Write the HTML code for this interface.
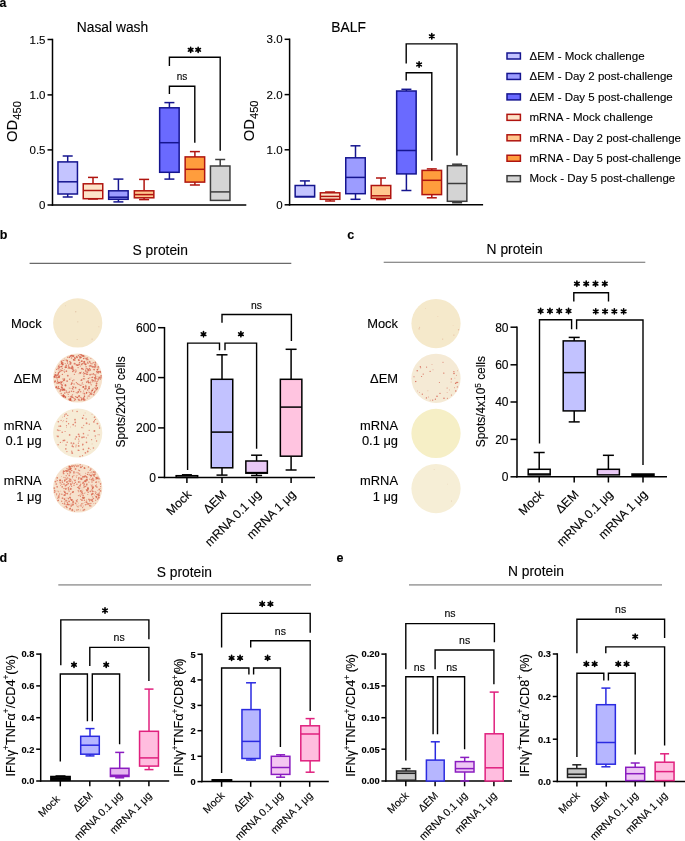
<!DOCTYPE html>
<html><head><meta charset="utf-8"><style>html,body{margin:0;padding:0;background:#fff;width:685px;height:841px;overflow:hidden}svg{display:block;will-change:transform}text{stroke:#000;stroke-width:0.12px}</style></head>
<body><svg width="685" height="841" viewBox="0 0 685 841" font-family='"Liberation Sans", sans-serif'><rect width="685" height="841" fill="#fff"/><defs><filter id="bl" x="-10%" y="-10%" width="120%" height="120%"><feGaussianBlur stdDeviation="0.4"/></filter></defs><text x="-0.60" y="7.00" font-size="12.3" text-anchor="start" font-weight="bold" fill="#000">a</text><text x="-0.30" y="238.70" font-size="12.5" text-anchor="start" font-weight="bold" fill="#000">b</text><text x="347.30" y="238.70" font-size="12.5" text-anchor="start" font-weight="bold" fill="#000">c</text><text x="-0.60" y="562.00" font-size="12.5" text-anchor="start" font-weight="bold" fill="#000">d</text><text x="336.50" y="562.00" font-size="12.5" text-anchor="start" font-weight="bold" fill="#000">e</text><text x="112.50" y="31.50" font-size="13.8" text-anchor="middle" font-weight="normal" fill="#000">Nasal wash</text><text x="348.60" y="31.60" font-size="13.8" text-anchor="middle" font-weight="normal" fill="#000">BALF</text><line x1="52.50" y1="38.75" x2="52.50" y2="205.75" stroke="#000" stroke-width="1.5" stroke-linecap="butt"/><line x1="47.50" y1="39.50" x2="52.50" y2="39.50" stroke="#000" stroke-width="1.5" stroke-linecap="butt"/><text x="45.50" y="43.50" font-size="11.5" text-anchor="end" font-weight="normal" fill="#000">1.5</text><line x1="47.50" y1="94.90" x2="52.50" y2="94.90" stroke="#000" stroke-width="1.5" stroke-linecap="butt"/><text x="45.50" y="98.90" font-size="11.5" text-anchor="end" font-weight="normal" fill="#000">1.0</text><line x1="47.50" y1="149.90" x2="52.50" y2="149.90" stroke="#000" stroke-width="1.5" stroke-linecap="butt"/><text x="45.50" y="153.90" font-size="11.5" text-anchor="end" font-weight="normal" fill="#000">0.5</text><line x1="47.50" y1="205.00" x2="52.50" y2="205.00" stroke="#000" stroke-width="1.5" stroke-linecap="butt"/><text x="45.50" y="209.00" font-size="11.5" text-anchor="end" font-weight="normal" fill="#000">0</text><line x1="51.75" y1="205.00" x2="246.30" y2="205.00" stroke="#000" stroke-width="1.5" stroke-linecap="butt"/><line x1="289.60" y1="38.55" x2="289.60" y2="205.55" stroke="#000" stroke-width="1.5" stroke-linecap="butt"/><line x1="284.60" y1="39.30" x2="289.60" y2="39.30" stroke="#000" stroke-width="1.5" stroke-linecap="butt"/><text x="282.60" y="43.30" font-size="11.5" text-anchor="end" font-weight="normal" fill="#000">3.0</text><line x1="284.60" y1="94.60" x2="289.60" y2="94.60" stroke="#000" stroke-width="1.5" stroke-linecap="butt"/><text x="282.60" y="98.60" font-size="11.5" text-anchor="end" font-weight="normal" fill="#000">2.0</text><line x1="284.60" y1="149.80" x2="289.60" y2="149.80" stroke="#000" stroke-width="1.5" stroke-linecap="butt"/><text x="282.60" y="153.80" font-size="11.5" text-anchor="end" font-weight="normal" fill="#000">1.0</text><line x1="284.60" y1="204.80" x2="289.60" y2="204.80" stroke="#000" stroke-width="1.5" stroke-linecap="butt"/><text x="282.60" y="208.80" font-size="11.5" text-anchor="end" font-weight="normal" fill="#000">0</text><line x1="288.85" y1="204.80" x2="483.10" y2="204.80" stroke="#000" stroke-width="1.5" stroke-linecap="butt"/><text transform="translate(17.3 141.9) rotate(-90)" font-size="14.8">OD<tspan font-size="11.2" dy="3.4">450</tspan></text><text transform="translate(254.1 141.3) rotate(-90)" font-size="14.8">OD<tspan font-size="11.2" dy="3.4">450</tspan></text><line x1="67.70" y1="156.00" x2="67.70" y2="161.90" stroke="#15158f" stroke-width="1.5" stroke-linecap="butt"/><line x1="62.70" y1="156.00" x2="72.70" y2="156.00" stroke="#15158f" stroke-width="1.5" stroke-linecap="butt"/><line x1="67.70" y1="194.00" x2="67.70" y2="197.00" stroke="#15158f" stroke-width="1.5" stroke-linecap="butt"/><line x1="62.70" y1="197.00" x2="72.70" y2="197.00" stroke="#15158f" stroke-width="1.5" stroke-linecap="butt"/><rect x="57.95" y="161.90" width="19.50" height="32.10" fill="#c4c4ff" stroke="#15158f" stroke-width="1.5"/><line x1="57.95" y1="181.80" x2="77.45" y2="181.80" stroke="#15158f" stroke-width="1.5" stroke-linecap="butt"/><line x1="93.00" y1="177.40" x2="93.00" y2="183.80" stroke="#b0140f" stroke-width="1.5" stroke-linecap="butt"/><line x1="88.00" y1="177.40" x2="98.00" y2="177.40" stroke="#b0140f" stroke-width="1.5" stroke-linecap="butt"/><line x1="93.00" y1="198.70" x2="93.00" y2="199.00" stroke="#b0140f" stroke-width="1.5" stroke-linecap="butt"/><line x1="88.00" y1="199.00" x2="98.00" y2="199.00" stroke="#b0140f" stroke-width="1.5" stroke-linecap="butt"/><rect x="83.25" y="183.80" width="19.50" height="14.90" fill="#fde3c8" stroke="#b0140f" stroke-width="1.5"/><line x1="83.25" y1="190.50" x2="102.75" y2="190.50" stroke="#b0140f" stroke-width="1.5" stroke-linecap="butt"/><line x1="118.40" y1="179.10" x2="118.40" y2="190.80" stroke="#15158f" stroke-width="1.5" stroke-linecap="butt"/><line x1="113.40" y1="179.10" x2="123.40" y2="179.10" stroke="#15158f" stroke-width="1.5" stroke-linecap="butt"/><line x1="118.40" y1="199.30" x2="118.40" y2="201.90" stroke="#15158f" stroke-width="1.5" stroke-linecap="butt"/><line x1="113.40" y1="201.90" x2="123.40" y2="201.90" stroke="#15158f" stroke-width="1.5" stroke-linecap="butt"/><rect x="108.65" y="190.80" width="19.50" height="8.50" fill="#9c9cff" stroke="#15158f" stroke-width="1.5"/><line x1="108.65" y1="197.20" x2="128.15" y2="197.20" stroke="#15158f" stroke-width="1.5" stroke-linecap="butt"/><line x1="144.10" y1="179.40" x2="144.10" y2="190.80" stroke="#b0140f" stroke-width="1.5" stroke-linecap="butt"/><line x1="139.10" y1="179.40" x2="149.10" y2="179.40" stroke="#b0140f" stroke-width="1.5" stroke-linecap="butt"/><line x1="144.10" y1="197.80" x2="144.10" y2="199.60" stroke="#b0140f" stroke-width="1.5" stroke-linecap="butt"/><line x1="139.10" y1="199.60" x2="149.10" y2="199.60" stroke="#b0140f" stroke-width="1.5" stroke-linecap="butt"/><rect x="134.35" y="190.80" width="19.50" height="7.00" fill="#ffc78e" stroke="#b0140f" stroke-width="1.5"/><line x1="134.35" y1="194.60" x2="153.85" y2="194.60" stroke="#b0140f" stroke-width="1.5" stroke-linecap="butt"/><line x1="169.40" y1="102.60" x2="169.40" y2="107.80" stroke="#15158f" stroke-width="1.5" stroke-linecap="butt"/><line x1="164.40" y1="102.60" x2="174.40" y2="102.60" stroke="#15158f" stroke-width="1.5" stroke-linecap="butt"/><line x1="169.40" y1="172.30" x2="169.40" y2="179.10" stroke="#15158f" stroke-width="1.5" stroke-linecap="butt"/><line x1="164.40" y1="179.10" x2="174.40" y2="179.10" stroke="#15158f" stroke-width="1.5" stroke-linecap="butt"/><rect x="159.65" y="107.80" width="19.50" height="64.50" fill="#6a6aff" stroke="#15158f" stroke-width="1.5"/><line x1="159.65" y1="142.70" x2="179.15" y2="142.70" stroke="#15158f" stroke-width="1.5" stroke-linecap="butt"/><line x1="194.90" y1="151.60" x2="194.90" y2="156.90" stroke="#b0140f" stroke-width="1.5" stroke-linecap="butt"/><line x1="189.90" y1="151.60" x2="199.90" y2="151.60" stroke="#b0140f" stroke-width="1.5" stroke-linecap="butt"/><line x1="194.90" y1="182.10" x2="194.90" y2="185.00" stroke="#b0140f" stroke-width="1.5" stroke-linecap="butt"/><line x1="189.90" y1="185.00" x2="199.90" y2="185.00" stroke="#b0140f" stroke-width="1.5" stroke-linecap="butt"/><rect x="185.15" y="156.90" width="19.50" height="25.20" fill="#ff9d3d" stroke="#b0140f" stroke-width="1.5"/><line x1="185.15" y1="169.30" x2="204.65" y2="169.30" stroke="#b0140f" stroke-width="1.5" stroke-linecap="butt"/><line x1="220.20" y1="159.50" x2="220.20" y2="166.00" stroke="#3c3c3c" stroke-width="1.5" stroke-linecap="butt"/><line x1="215.20" y1="159.50" x2="225.20" y2="159.50" stroke="#3c3c3c" stroke-width="1.5" stroke-linecap="butt"/><rect x="210.45" y="166.00" width="19.50" height="34.40" fill="#d4d4d4" stroke="#3c3c3c" stroke-width="1.5"/><line x1="210.45" y1="191.90" x2="229.95" y2="191.90" stroke="#3c3c3c" stroke-width="1.5" stroke-linecap="butt"/><polyline points="169.40,94.00 169.40,86.20 194.80,86.20 194.80,142.70" fill="none" stroke="#000" stroke-width="1.4" stroke-linejoin="miter"/><polyline points="169.40,66.00 169.40,57.30 220.20,57.30 220.20,150.70" fill="none" stroke="#000" stroke-width="1.4" stroke-linejoin="miter"/><text x="182.00" y="80.00" font-size="10" text-anchor="middle" font-weight="normal" fill="#000">ns</text><path d="M190.65 47.20L190.65 52.50M188.36 48.52L192.94 51.18M192.94 48.52L188.36 51.18" stroke="#000" stroke-width="1.6" fill="none" stroke-linecap="round"/><path d="M198.15 47.20L198.15 52.50M195.86 48.52L200.44 51.18M200.44 48.52L195.86 51.18" stroke="#000" stroke-width="1.6" fill="none" stroke-linecap="round"/><line x1="304.90" y1="180.90" x2="304.90" y2="185.50" stroke="#15158f" stroke-width="1.5" stroke-linecap="butt"/><line x1="299.90" y1="180.90" x2="309.90" y2="180.90" stroke="#15158f" stroke-width="1.5" stroke-linecap="butt"/><rect x="295.15" y="185.50" width="19.50" height="11.40" fill="#c4c4ff" stroke="#15158f" stroke-width="1.5"/><line x1="295.15" y1="196.50" x2="314.65" y2="196.50" stroke="#15158f" stroke-width="1.5" stroke-linecap="butt"/><line x1="330.10" y1="192.00" x2="330.10" y2="192.80" stroke="#b0140f" stroke-width="1.5" stroke-linecap="butt"/><line x1="325.10" y1="192.00" x2="335.10" y2="192.00" stroke="#b0140f" stroke-width="1.5" stroke-linecap="butt"/><line x1="330.10" y1="199.30" x2="330.10" y2="201.00" stroke="#b0140f" stroke-width="1.5" stroke-linecap="butt"/><line x1="325.10" y1="201.00" x2="335.10" y2="201.00" stroke="#b0140f" stroke-width="1.5" stroke-linecap="butt"/><rect x="320.35" y="192.80" width="19.50" height="6.50" fill="#fde3c8" stroke="#b0140f" stroke-width="1.5"/><line x1="320.35" y1="196.40" x2="339.85" y2="196.40" stroke="#b0140f" stroke-width="1.5" stroke-linecap="butt"/><line x1="355.50" y1="145.80" x2="355.50" y2="157.80" stroke="#15158f" stroke-width="1.5" stroke-linecap="butt"/><line x1="350.50" y1="145.80" x2="360.50" y2="145.80" stroke="#15158f" stroke-width="1.5" stroke-linecap="butt"/><line x1="355.50" y1="193.70" x2="355.50" y2="199.30" stroke="#15158f" stroke-width="1.5" stroke-linecap="butt"/><line x1="350.50" y1="199.30" x2="360.50" y2="199.30" stroke="#15158f" stroke-width="1.5" stroke-linecap="butt"/><rect x="345.75" y="157.80" width="19.50" height="35.90" fill="#9c9cff" stroke="#15158f" stroke-width="1.5"/><line x1="345.75" y1="177.40" x2="365.25" y2="177.40" stroke="#15158f" stroke-width="1.5" stroke-linecap="butt"/><line x1="381.00" y1="178.00" x2="381.00" y2="185.50" stroke="#b0140f" stroke-width="1.5" stroke-linecap="butt"/><line x1="376.00" y1="178.00" x2="386.00" y2="178.00" stroke="#b0140f" stroke-width="1.5" stroke-linecap="butt"/><line x1="381.00" y1="198.40" x2="381.00" y2="199.60" stroke="#b0140f" stroke-width="1.5" stroke-linecap="butt"/><line x1="376.00" y1="199.60" x2="386.00" y2="199.60" stroke="#b0140f" stroke-width="1.5" stroke-linecap="butt"/><rect x="371.25" y="185.50" width="19.50" height="12.90" fill="#ffc78e" stroke="#b0140f" stroke-width="1.5"/><line x1="371.25" y1="195.80" x2="390.75" y2="195.80" stroke="#b0140f" stroke-width="1.5" stroke-linecap="butt"/><line x1="406.40" y1="89.30" x2="406.40" y2="91.00" stroke="#15158f" stroke-width="1.5" stroke-linecap="butt"/><line x1="401.40" y1="89.30" x2="411.40" y2="89.30" stroke="#15158f" stroke-width="1.5" stroke-linecap="butt"/><line x1="406.40" y1="173.90" x2="406.40" y2="190.50" stroke="#15158f" stroke-width="1.5" stroke-linecap="butt"/><line x1="401.40" y1="190.50" x2="411.40" y2="190.50" stroke="#15158f" stroke-width="1.5" stroke-linecap="butt"/><rect x="396.65" y="91.00" width="19.50" height="82.90" fill="#6a6aff" stroke="#15158f" stroke-width="1.5"/><line x1="396.65" y1="150.50" x2="416.15" y2="150.50" stroke="#15158f" stroke-width="1.5" stroke-linecap="butt"/><line x1="431.80" y1="168.90" x2="431.80" y2="170.40" stroke="#b0140f" stroke-width="1.5" stroke-linecap="butt"/><line x1="426.80" y1="168.90" x2="436.80" y2="168.90" stroke="#b0140f" stroke-width="1.5" stroke-linecap="butt"/><line x1="431.80" y1="194.60" x2="431.80" y2="197.80" stroke="#b0140f" stroke-width="1.5" stroke-linecap="butt"/><line x1="426.80" y1="197.80" x2="436.80" y2="197.80" stroke="#b0140f" stroke-width="1.5" stroke-linecap="butt"/><rect x="422.05" y="170.40" width="19.50" height="24.20" fill="#ff9d3d" stroke="#b0140f" stroke-width="1.5"/><line x1="422.05" y1="180.30" x2="441.55" y2="180.30" stroke="#b0140f" stroke-width="1.5" stroke-linecap="butt"/><line x1="457.10" y1="164.20" x2="457.10" y2="165.70" stroke="#3c3c3c" stroke-width="1.5" stroke-linecap="butt"/><line x1="452.10" y1="164.20" x2="462.10" y2="164.20" stroke="#3c3c3c" stroke-width="1.5" stroke-linecap="butt"/><line x1="457.10" y1="201.30" x2="457.10" y2="202.70" stroke="#3c3c3c" stroke-width="1.5" stroke-linecap="butt"/><line x1="452.10" y1="202.70" x2="462.10" y2="202.70" stroke="#3c3c3c" stroke-width="1.5" stroke-linecap="butt"/><rect x="447.35" y="165.70" width="19.50" height="35.60" fill="#d4d4d4" stroke="#3c3c3c" stroke-width="1.5"/><line x1="447.35" y1="183.50" x2="466.85" y2="183.50" stroke="#3c3c3c" stroke-width="1.5" stroke-linecap="butt"/><polyline points="406.20,80.50 406.20,72.80 431.80,72.80 431.80,160.70" fill="none" stroke="#000" stroke-width="1.4" stroke-linejoin="miter"/><polyline points="406.20,63.60 406.20,43.90 457.00,43.90 457.00,155.50" fill="none" stroke="#000" stroke-width="1.4" stroke-linejoin="miter"/><path d="M419.10 61.85L419.10 67.15M416.81 63.17L421.39 65.83M421.39 63.17L416.81 65.83" stroke="#000" stroke-width="1.6" fill="none" stroke-linecap="round"/><path d="M431.80 33.65L431.80 38.95M429.51 34.97L434.09 37.62M434.09 34.97L429.51 37.62" stroke="#000" stroke-width="1.6" fill="none" stroke-linecap="round"/><rect x="507" y="53.00" width="13.4" height="6" fill="#c4c4ff" stroke="#15158f" stroke-width="1.5"/><text x="529.50" y="59.70" font-size="11.5" text-anchor="start" font-weight="normal" fill="#000">ΔEM - Mock challenge</text><rect x="507" y="73.45" width="13.4" height="6" fill="#9c9cff" stroke="#15158f" stroke-width="1.5"/><text x="529.50" y="80.15" font-size="11.5" text-anchor="start" font-weight="normal" fill="#000">ΔEM - Day 2 post-challenge</text><rect x="507" y="93.90" width="13.4" height="6" fill="#6a6aff" stroke="#15158f" stroke-width="1.5"/><text x="529.50" y="100.60" font-size="11.5" text-anchor="start" font-weight="normal" fill="#000">ΔEM - Day 5 post-challenge</text><rect x="507" y="114.35" width="13.4" height="6" fill="#fde3c8" stroke="#b0140f" stroke-width="1.5"/><text x="529.50" y="121.05" font-size="11.5" text-anchor="start" font-weight="normal" fill="#000">mRNA - Mock challenge</text><rect x="507" y="134.80" width="13.4" height="6" fill="#ffc78e" stroke="#b0140f" stroke-width="1.5"/><text x="529.50" y="141.50" font-size="11.5" text-anchor="start" font-weight="normal" fill="#000">mRNA - Day 2 post-challenge</text><rect x="507" y="155.25" width="13.4" height="6" fill="#ff9d3d" stroke="#b0140f" stroke-width="1.5"/><text x="529.50" y="161.95" font-size="11.5" text-anchor="start" font-weight="normal" fill="#000">mRNA - Day 5 post-challenge</text><rect x="507" y="175.70" width="13.4" height="6" fill="#d4d4d4" stroke="#3c3c3c" stroke-width="1.5"/><text x="529.50" y="182.40" font-size="11.5" text-anchor="start" font-weight="normal" fill="#000">Mock - Day 5 post-challenge</text><line x1="29.60" y1="263.40" x2="291.30" y2="263.40" stroke="#6a6a6a" stroke-width="1.1" stroke-linecap="butt"/><text x="160.20" y="255.10" font-size="13.8" text-anchor="middle" font-weight="normal" fill="#000">S protein</text><circle cx="77.7" cy="322.9" r="24.6" fill="#f5e8cb" filter="url(#bl)"/><g filter="url(#bl)"><circle cx="92.1" cy="339.1" r="0.71" fill="#d0a080" fill-opacity="0.45"/><circle cx="77.2" cy="339.5" r="0.58" fill="#d0a080" fill-opacity="0.45"/><circle cx="65.5" cy="305.8" r="0.44" fill="#d0a080" fill-opacity="0.45"/><circle cx="98.9" cy="326.7" r="0.57" fill="#d0a080" fill-opacity="0.45"/><circle cx="77.8" cy="321.8" r="0.58" fill="#d0a080" fill-opacity="0.45"/><circle cx="75.7" cy="311.8" r="0.78" fill="#d0a080" fill-opacity="0.45"/></g><circle cx="77.7" cy="378" r="24.6" fill="#f6e2cc" filter="url(#bl)"/><g filter="url(#bl)"><circle cx="100.0" cy="371.7" r="0.43" fill="#d04c36" fill-opacity="0.66"/><circle cx="96.8" cy="389.3" r="0.80" fill="#d04c36" fill-opacity="0.66"/><circle cx="70.1" cy="364.3" r="0.73" fill="#d04c36" fill-opacity="0.66"/><circle cx="62.4" cy="365.9" r="0.49" fill="#d04c36" fill-opacity="0.66"/><circle cx="62.3" cy="385.2" r="0.80" fill="#d04c36" fill-opacity="0.66"/><circle cx="100.9" cy="377.2" r="0.70" fill="#d04c36" fill-opacity="0.66"/><circle cx="63.7" cy="383.1" r="0.42" fill="#d04c36" fill-opacity="0.66"/><circle cx="95.5" cy="381.1" r="0.58" fill="#d04c36" fill-opacity="0.66"/><circle cx="61.2" cy="393.5" r="0.69" fill="#d04c36" fill-opacity="0.66"/><circle cx="64.5" cy="372.7" r="0.41" fill="#d04c36" fill-opacity="0.66"/><circle cx="72.3" cy="388.5" r="0.68" fill="#d04c36" fill-opacity="0.66"/><circle cx="98.3" cy="377.8" r="0.50" fill="#d04c36" fill-opacity="0.66"/><circle cx="94.8" cy="364.5" r="0.80" fill="#d04c36" fill-opacity="0.66"/><circle cx="95.6" cy="366.1" r="0.83" fill="#d04c36" fill-opacity="0.66"/><circle cx="63.5" cy="396.6" r="0.93" fill="#d04c36" fill-opacity="0.66"/><circle cx="89.0" cy="396.1" r="0.79" fill="#d04c36" fill-opacity="0.66"/><circle cx="59.3" cy="382.5" r="0.67" fill="#d04c36" fill-opacity="0.66"/><circle cx="94.2" cy="369.6" r="0.86" fill="#d04c36" fill-opacity="0.66"/><circle cx="64.0" cy="396.0" r="0.89" fill="#d04c36" fill-opacity="0.66"/><circle cx="58.9" cy="382.7" r="0.91" fill="#d04c36" fill-opacity="0.66"/><circle cx="74.7" cy="359.9" r="0.52" fill="#d04c36" fill-opacity="0.66"/><circle cx="68.3" cy="396.6" r="0.49" fill="#d04c36" fill-opacity="0.66"/><circle cx="90.2" cy="369.9" r="0.90" fill="#d04c36" fill-opacity="0.66"/><circle cx="69.2" cy="399.6" r="0.79" fill="#d04c36" fill-opacity="0.66"/><circle cx="59.0" cy="377.5" r="0.76" fill="#d04c36" fill-opacity="0.66"/><circle cx="64.3" cy="369.8" r="0.51" fill="#d04c36" fill-opacity="0.66"/><circle cx="54.7" cy="376.3" r="0.74" fill="#d04c36" fill-opacity="0.66"/><circle cx="97.3" cy="388.1" r="0.80" fill="#d04c36" fill-opacity="0.66"/><circle cx="88.8" cy="370.7" r="0.81" fill="#d04c36" fill-opacity="0.66"/><circle cx="96.7" cy="385.3" r="0.55" fill="#d04c36" fill-opacity="0.66"/><circle cx="81.0" cy="400.3" r="0.46" fill="#d04c36" fill-opacity="0.66"/><circle cx="55.6" cy="374.9" r="0.53" fill="#d04c36" fill-opacity="0.66"/><circle cx="83.3" cy="399.9" r="0.63" fill="#d04c36" fill-opacity="0.66"/><circle cx="76.2" cy="371.1" r="0.60" fill="#d04c36" fill-opacity="0.66"/><circle cx="87.4" cy="396.1" r="0.45" fill="#d04c36" fill-opacity="0.66"/><circle cx="84.0" cy="376.2" r="0.80" fill="#d04c36" fill-opacity="0.66"/><circle cx="92.2" cy="379.9" r="0.85" fill="#d04c36" fill-opacity="0.66"/><circle cx="84.9" cy="388.9" r="0.78" fill="#d04c36" fill-opacity="0.66"/><circle cx="71.8" cy="383.2" r="0.94" fill="#d04c36" fill-opacity="0.66"/><circle cx="82.0" cy="384.0" r="0.59" fill="#d04c36" fill-opacity="0.66"/><circle cx="61.8" cy="363.9" r="0.46" fill="#d04c36" fill-opacity="0.66"/><circle cx="74.1" cy="384.0" r="0.65" fill="#d04c36" fill-opacity="0.66"/><circle cx="79.8" cy="356.9" r="0.90" fill="#d04c36" fill-opacity="0.66"/><circle cx="78.5" cy="355.6" r="0.79" fill="#d04c36" fill-opacity="0.66"/><circle cx="63.9" cy="380.4" r="0.76" fill="#d04c36" fill-opacity="0.66"/><circle cx="73.4" cy="387.7" r="0.65" fill="#d04c36" fill-opacity="0.66"/><circle cx="85.8" cy="369.9" r="0.72" fill="#d04c36" fill-opacity="0.66"/><circle cx="63.1" cy="389.7" r="0.48" fill="#d04c36" fill-opacity="0.66"/><circle cx="92.0" cy="374.3" r="0.73" fill="#d04c36" fill-opacity="0.66"/><circle cx="72.6" cy="380.8" r="0.71" fill="#d04c36" fill-opacity="0.66"/><circle cx="83.2" cy="384.7" r="0.42" fill="#d04c36" fill-opacity="0.66"/><circle cx="83.2" cy="386.8" r="0.75" fill="#d04c36" fill-opacity="0.66"/><circle cx="54.3" cy="376.8" r="0.91" fill="#d04c36" fill-opacity="0.66"/><circle cx="91.9" cy="377.5" r="0.64" fill="#d04c36" fill-opacity="0.66"/><circle cx="77.6" cy="397.6" r="0.74" fill="#d04c36" fill-opacity="0.66"/><circle cx="84.2" cy="358.1" r="0.54" fill="#d04c36" fill-opacity="0.66"/><circle cx="61.0" cy="386.8" r="0.40" fill="#d04c36" fill-opacity="0.66"/><circle cx="94.5" cy="381.8" r="0.46" fill="#d04c36" fill-opacity="0.66"/><circle cx="75.3" cy="363.8" r="0.45" fill="#d04c36" fill-opacity="0.66"/><circle cx="83.6" cy="390.9" r="0.52" fill="#d04c36" fill-opacity="0.66"/><circle cx="59.8" cy="375.7" r="0.57" fill="#d04c36" fill-opacity="0.66"/><circle cx="69.1" cy="367.3" r="0.90" fill="#d04c36" fill-opacity="0.66"/><circle cx="98.3" cy="373.1" r="0.64" fill="#d04c36" fill-opacity="0.66"/><circle cx="58.2" cy="376.6" r="0.43" fill="#d04c36" fill-opacity="0.66"/><circle cx="61.3" cy="387.3" r="0.50" fill="#d04c36" fill-opacity="0.66"/><circle cx="95.9" cy="390.2" r="0.60" fill="#d04c36" fill-opacity="0.66"/><circle cx="54.9" cy="375.2" r="0.74" fill="#d04c36" fill-opacity="0.66"/><circle cx="71.9" cy="400.8" r="0.60" fill="#d04c36" fill-opacity="0.66"/><circle cx="98.2" cy="380.5" r="0.46" fill="#d04c36" fill-opacity="0.66"/><circle cx="70.1" cy="398.9" r="0.77" fill="#d04c36" fill-opacity="0.66"/><circle cx="95.5" cy="379.8" r="0.63" fill="#d04c36" fill-opacity="0.66"/><circle cx="64.1" cy="379.2" r="0.72" fill="#d04c36" fill-opacity="0.66"/><circle cx="91.3" cy="384.8" r="0.61" fill="#d04c36" fill-opacity="0.66"/><circle cx="86.5" cy="374.2" r="0.82" fill="#d04c36" fill-opacity="0.66"/><circle cx="84.6" cy="396.2" r="0.62" fill="#d04c36" fill-opacity="0.66"/><circle cx="56.9" cy="382.9" r="0.62" fill="#d04c36" fill-opacity="0.66"/><circle cx="85.9" cy="385.8" r="0.44" fill="#d04c36" fill-opacity="0.66"/><circle cx="89.6" cy="361.7" r="0.93" fill="#d04c36" fill-opacity="0.66"/><circle cx="75.4" cy="372.0" r="0.76" fill="#d04c36" fill-opacity="0.66"/><circle cx="81.3" cy="357.2" r="0.67" fill="#d04c36" fill-opacity="0.66"/><circle cx="66.5" cy="392.0" r="0.84" fill="#d04c36" fill-opacity="0.66"/><circle cx="75.5" cy="396.7" r="0.66" fill="#d04c36" fill-opacity="0.66"/><circle cx="98.7" cy="371.9" r="0.91" fill="#d04c36" fill-opacity="0.66"/><circle cx="85.6" cy="364.8" r="0.53" fill="#d04c36" fill-opacity="0.66"/><circle cx="63.0" cy="379.0" r="0.64" fill="#d04c36" fill-opacity="0.66"/><circle cx="67.8" cy="357.3" r="0.72" fill="#d04c36" fill-opacity="0.66"/><circle cx="82.0" cy="368.5" r="0.60" fill="#d04c36" fill-opacity="0.66"/><circle cx="89.8" cy="377.8" r="0.63" fill="#d04c36" fill-opacity="0.66"/><circle cx="86.8" cy="382.1" r="0.89" fill="#d04c36" fill-opacity="0.66"/><circle cx="97.9" cy="376.6" r="0.47" fill="#d04c36" fill-opacity="0.66"/><circle cx="73.6" cy="391.6" r="0.77" fill="#d04c36" fill-opacity="0.66"/><circle cx="70.3" cy="361.9" r="0.69" fill="#d04c36" fill-opacity="0.66"/><circle cx="92.2" cy="390.3" r="0.92" fill="#d04c36" fill-opacity="0.66"/><circle cx="78.1" cy="367.6" r="0.68" fill="#d04c36" fill-opacity="0.66"/><circle cx="74.5" cy="363.7" r="0.89" fill="#d04c36" fill-opacity="0.66"/><circle cx="57.4" cy="383.1" r="0.62" fill="#d04c36" fill-opacity="0.66"/><circle cx="99.4" cy="377.3" r="0.72" fill="#d04c36" fill-opacity="0.66"/><circle cx="88.6" cy="392.0" r="0.42" fill="#d04c36" fill-opacity="0.66"/><circle cx="59.0" cy="365.3" r="0.50" fill="#d04c36" fill-opacity="0.66"/><circle cx="59.4" cy="376.8" r="0.62" fill="#d04c36" fill-opacity="0.66"/><circle cx="72.0" cy="355.6" r="0.79" fill="#d04c36" fill-opacity="0.66"/><circle cx="54.7" cy="382.0" r="0.58" fill="#d04c36" fill-opacity="0.66"/><circle cx="77.1" cy="357.6" r="0.82" fill="#d04c36" fill-opacity="0.66"/><circle cx="86.1" cy="366.8" r="0.74" fill="#d04c36" fill-opacity="0.66"/><circle cx="60.9" cy="389.8" r="0.94" fill="#d04c36" fill-opacity="0.66"/><circle cx="74.4" cy="374.3" r="0.66" fill="#d04c36" fill-opacity="0.66"/><circle cx="72.3" cy="356.0" r="0.76" fill="#d04c36" fill-opacity="0.66"/><circle cx="80.0" cy="372.8" r="0.92" fill="#d04c36" fill-opacity="0.66"/><circle cx="75.1" cy="358.3" r="0.90" fill="#d04c36" fill-opacity="0.66"/><circle cx="85.6" cy="371.0" r="0.85" fill="#d04c36" fill-opacity="0.66"/><circle cx="79.1" cy="364.6" r="0.81" fill="#d04c36" fill-opacity="0.66"/><circle cx="66.4" cy="371.2" r="0.84" fill="#d04c36" fill-opacity="0.66"/><circle cx="90.6" cy="393.2" r="0.64" fill="#d04c36" fill-opacity="0.66"/><circle cx="77.3" cy="397.3" r="0.66" fill="#d04c36" fill-opacity="0.66"/><circle cx="84.2" cy="400.4" r="0.44" fill="#d04c36" fill-opacity="0.66"/><circle cx="96.0" cy="378.3" r="0.86" fill="#d04c36" fill-opacity="0.66"/><circle cx="66.1" cy="360.0" r="0.67" fill="#d04c36" fill-opacity="0.66"/><circle cx="70.4" cy="363.7" r="0.55" fill="#d04c36" fill-opacity="0.66"/><circle cx="71.0" cy="377.9" r="0.44" fill="#d04c36" fill-opacity="0.66"/><circle cx="78.0" cy="365.2" r="0.81" fill="#d04c36" fill-opacity="0.66"/><circle cx="81.4" cy="361.2" r="0.77" fill="#d04c36" fill-opacity="0.66"/><circle cx="82.9" cy="356.2" r="0.47" fill="#d04c36" fill-opacity="0.66"/><circle cx="86.5" cy="392.4" r="0.66" fill="#d04c36" fill-opacity="0.66"/><circle cx="76.4" cy="382.6" r="0.71" fill="#d04c36" fill-opacity="0.66"/><circle cx="94.0" cy="374.6" r="0.70" fill="#d04c36" fill-opacity="0.66"/><circle cx="64.6" cy="390.0" r="0.88" fill="#d04c36" fill-opacity="0.66"/><circle cx="70.4" cy="396.9" r="0.67" fill="#d04c36" fill-opacity="0.66"/><circle cx="55.5" cy="372.5" r="0.44" fill="#d04c36" fill-opacity="0.66"/><circle cx="84.7" cy="364.1" r="0.76" fill="#d04c36" fill-opacity="0.66"/><circle cx="83.5" cy="358.5" r="0.62" fill="#d04c36" fill-opacity="0.66"/><circle cx="83.2" cy="369.3" r="0.75" fill="#d04c36" fill-opacity="0.66"/><circle cx="63.0" cy="390.0" r="0.87" fill="#d04c36" fill-opacity="0.66"/><circle cx="83.6" cy="358.8" r="0.57" fill="#d04c36" fill-opacity="0.66"/><circle cx="79.6" cy="395.9" r="0.53" fill="#d04c36" fill-opacity="0.66"/><circle cx="73.7" cy="400.9" r="0.46" fill="#d04c36" fill-opacity="0.66"/><circle cx="84.7" cy="362.7" r="0.60" fill="#d04c36" fill-opacity="0.66"/><circle cx="73.7" cy="386.8" r="0.65" fill="#d04c36" fill-opacity="0.66"/><circle cx="86.6" cy="393.4" r="0.56" fill="#d04c36" fill-opacity="0.66"/><circle cx="95.8" cy="363.9" r="0.64" fill="#d04c36" fill-opacity="0.66"/><circle cx="63.0" cy="360.3" r="0.58" fill="#d04c36" fill-opacity="0.66"/><circle cx="89.3" cy="386.4" r="0.50" fill="#d04c36" fill-opacity="0.66"/><circle cx="70.4" cy="362.9" r="0.60" fill="#d04c36" fill-opacity="0.66"/><circle cx="81.7" cy="364.4" r="0.84" fill="#d04c36" fill-opacity="0.66"/><circle cx="66.2" cy="365.3" r="0.85" fill="#d04c36" fill-opacity="0.66"/><circle cx="65.3" cy="396.9" r="0.91" fill="#d04c36" fill-opacity="0.66"/><circle cx="57.0" cy="377.7" r="0.92" fill="#d04c36" fill-opacity="0.66"/><circle cx="76.7" cy="356.7" r="0.88" fill="#d04c36" fill-opacity="0.66"/><circle cx="97.4" cy="369.6" r="0.94" fill="#d04c36" fill-opacity="0.66"/><circle cx="72.5" cy="397.3" r="0.77" fill="#d04c36" fill-opacity="0.66"/><circle cx="66.2" cy="390.6" r="0.50" fill="#d04c36" fill-opacity="0.66"/><circle cx="93.5" cy="373.7" r="0.66" fill="#d04c36" fill-opacity="0.66"/><circle cx="88.0" cy="369.9" r="0.93" fill="#d04c36" fill-opacity="0.66"/><circle cx="82.4" cy="382.8" r="0.59" fill="#d04c36" fill-opacity="0.66"/><circle cx="63.2" cy="395.7" r="0.89" fill="#d04c36" fill-opacity="0.66"/><circle cx="79.0" cy="360.4" r="0.70" fill="#d04c36" fill-opacity="0.66"/><circle cx="79.5" cy="400.1" r="0.61" fill="#d04c36" fill-opacity="0.66"/><circle cx="73.3" cy="397.7" r="0.48" fill="#d04c36" fill-opacity="0.66"/><circle cx="68.4" cy="399.0" r="0.45" fill="#d04c36" fill-opacity="0.66"/><circle cx="86.2" cy="388.6" r="0.54" fill="#d04c36" fill-opacity="0.66"/><circle cx="64.9" cy="385.0" r="0.59" fill="#d04c36" fill-opacity="0.66"/><circle cx="78.0" cy="392.3" r="0.74" fill="#d04c36" fill-opacity="0.66"/><circle cx="69.1" cy="392.3" r="0.82" fill="#d04c36" fill-opacity="0.66"/><circle cx="88.8" cy="382.5" r="0.87" fill="#d04c36" fill-opacity="0.66"/><circle cx="58.1" cy="387.2" r="0.47" fill="#d04c36" fill-opacity="0.66"/><circle cx="55.7" cy="374.8" r="0.59" fill="#d04c36" fill-opacity="0.66"/><circle cx="80.0" cy="358.3" r="0.62" fill="#d04c36" fill-opacity="0.66"/><circle cx="94.7" cy="377.7" r="0.66" fill="#d04c36" fill-opacity="0.66"/><circle cx="66.2" cy="367.2" r="0.86" fill="#d04c36" fill-opacity="0.66"/><circle cx="61.7" cy="366.7" r="0.70" fill="#d04c36" fill-opacity="0.66"/><circle cx="101.1" cy="375.8" r="0.86" fill="#d04c36" fill-opacity="0.66"/><circle cx="61.1" cy="382.9" r="0.69" fill="#d04c36" fill-opacity="0.66"/><circle cx="88.1" cy="381.1" r="0.95" fill="#d04c36" fill-opacity="0.66"/><circle cx="93.7" cy="394.7" r="0.77" fill="#d04c36" fill-opacity="0.66"/><circle cx="86.0" cy="373.1" r="0.57" fill="#d04c36" fill-opacity="0.66"/><circle cx="79.0" cy="373.7" r="0.46" fill="#d04c36" fill-opacity="0.66"/><circle cx="70.1" cy="388.3" r="0.48" fill="#d04c36" fill-opacity="0.66"/><circle cx="72.8" cy="369.0" r="0.93" fill="#d04c36" fill-opacity="0.66"/><circle cx="72.8" cy="371.3" r="0.89" fill="#d04c36" fill-opacity="0.66"/><circle cx="78.7" cy="396.3" r="0.71" fill="#d04c36" fill-opacity="0.66"/><circle cx="89.7" cy="392.2" r="0.43" fill="#d04c36" fill-opacity="0.66"/><circle cx="84.8" cy="399.8" r="0.85" fill="#d04c36" fill-opacity="0.66"/><circle cx="57.3" cy="375.0" r="0.88" fill="#d04c36" fill-opacity="0.66"/><circle cx="89.4" cy="392.2" r="0.47" fill="#d04c36" fill-opacity="0.66"/><circle cx="85.8" cy="385.2" r="0.52" fill="#d04c36" fill-opacity="0.66"/><circle cx="90.7" cy="382.5" r="0.61" fill="#d04c36" fill-opacity="0.66"/><circle cx="61.6" cy="362.4" r="0.90" fill="#d04c36" fill-opacity="0.66"/><circle cx="73.9" cy="359.8" r="0.90" fill="#d04c36" fill-opacity="0.66"/><circle cx="83.3" cy="387.2" r="0.85" fill="#d04c36" fill-opacity="0.66"/><circle cx="68.2" cy="368.2" r="0.61" fill="#d04c36" fill-opacity="0.66"/><circle cx="72.5" cy="394.8" r="0.64" fill="#d04c36" fill-opacity="0.66"/><circle cx="60.2" cy="391.0" r="0.85" fill="#d04c36" fill-opacity="0.66"/><circle cx="60.9" cy="371.1" r="0.56" fill="#d04c36" fill-opacity="0.66"/><circle cx="80.0" cy="354.6" r="0.53" fill="#d04c36" fill-opacity="0.66"/><circle cx="71.6" cy="358.1" r="0.76" fill="#d04c36" fill-opacity="0.66"/><circle cx="96.5" cy="381.7" r="0.51" fill="#d04c36" fill-opacity="0.66"/><circle cx="84.4" cy="396.3" r="0.75" fill="#d04c36" fill-opacity="0.66"/><circle cx="62.7" cy="362.9" r="0.79" fill="#d04c36" fill-opacity="0.66"/><circle cx="69.7" cy="379.3" r="0.82" fill="#d04c36" fill-opacity="0.66"/><circle cx="87.5" cy="358.1" r="0.73" fill="#d04c36" fill-opacity="0.66"/><circle cx="90.7" cy="381.2" r="0.46" fill="#d04c36" fill-opacity="0.66"/><circle cx="65.2" cy="363.6" r="0.50" fill="#d04c36" fill-opacity="0.66"/><circle cx="100.2" cy="371.6" r="0.89" fill="#d04c36" fill-opacity="0.66"/><circle cx="62.7" cy="381.5" r="0.51" fill="#d04c36" fill-opacity="0.66"/><circle cx="87.1" cy="359.4" r="0.55" fill="#d04c36" fill-opacity="0.66"/><circle cx="93.6" cy="366.8" r="0.63" fill="#d04c36" fill-opacity="0.66"/><circle cx="59.5" cy="388.7" r="0.65" fill="#d04c36" fill-opacity="0.66"/><circle cx="71.6" cy="368.5" r="0.79" fill="#d04c36" fill-opacity="0.66"/><circle cx="74.5" cy="400.6" r="0.52" fill="#d04c36" fill-opacity="0.66"/><circle cx="68.2" cy="394.5" r="0.62" fill="#d04c36" fill-opacity="0.66"/><circle cx="55.0" cy="374.3" r="0.51" fill="#d04c36" fill-opacity="0.66"/><circle cx="80.6" cy="357.4" r="0.83" fill="#d04c36" fill-opacity="0.66"/><circle cx="60.7" cy="383.8" r="0.59" fill="#d04c36" fill-opacity="0.66"/><circle cx="63.3" cy="380.4" r="0.50" fill="#d04c36" fill-opacity="0.66"/><circle cx="64.6" cy="380.0" r="0.66" fill="#d04c36" fill-opacity="0.66"/><circle cx="63.7" cy="371.0" r="0.49" fill="#d04c36" fill-opacity="0.66"/><circle cx="60.0" cy="364.3" r="0.52" fill="#d04c36" fill-opacity="0.66"/><circle cx="62.5" cy="364.4" r="0.89" fill="#d04c36" fill-opacity="0.66"/><circle cx="71.2" cy="363.8" r="0.51" fill="#d04c36" fill-opacity="0.66"/><circle cx="85.7" cy="364.8" r="0.41" fill="#d04c36" fill-opacity="0.66"/><circle cx="86.9" cy="368.3" r="0.57" fill="#d04c36" fill-opacity="0.66"/><circle cx="71.5" cy="391.3" r="0.80" fill="#d04c36" fill-opacity="0.66"/><circle cx="67.9" cy="392.8" r="0.63" fill="#d04c36" fill-opacity="0.66"/><circle cx="80.6" cy="373.0" r="0.72" fill="#d04c36" fill-opacity="0.66"/><circle cx="85.9" cy="387.0" r="0.73" fill="#d04c36" fill-opacity="0.66"/><circle cx="71.3" cy="384.4" r="0.72" fill="#d04c36" fill-opacity="0.66"/><circle cx="95.1" cy="367.6" r="0.67" fill="#d04c36" fill-opacity="0.66"/><circle cx="84.9" cy="356.3" r="0.48" fill="#d04c36" fill-opacity="0.66"/><circle cx="70.6" cy="400.2" r="0.91" fill="#d04c36" fill-opacity="0.66"/><circle cx="83.8" cy="398.0" r="0.88" fill="#d04c36" fill-opacity="0.66"/><circle cx="60.2" cy="366.7" r="0.69" fill="#d04c36" fill-opacity="0.66"/><circle cx="79.0" cy="391.7" r="0.43" fill="#d04c36" fill-opacity="0.66"/><circle cx="71.7" cy="367.8" r="0.74" fill="#d04c36" fill-opacity="0.66"/><circle cx="64.0" cy="389.2" r="0.93" fill="#d04c36" fill-opacity="0.66"/><circle cx="63.5" cy="389.4" r="0.61" fill="#d04c36" fill-opacity="0.66"/><circle cx="80.7" cy="391.7" r="0.69" fill="#d04c36" fill-opacity="0.66"/><circle cx="81.9" cy="368.7" r="0.92" fill="#d04c36" fill-opacity="0.66"/><circle cx="73.8" cy="370.4" r="0.79" fill="#d04c36" fill-opacity="0.66"/><circle cx="62.5" cy="388.9" r="0.46" fill="#d04c36" fill-opacity="0.66"/><circle cx="59.0" cy="376.8" r="0.83" fill="#d04c36" fill-opacity="0.66"/><circle cx="59.4" cy="367.8" r="0.80" fill="#d04c36" fill-opacity="0.66"/><circle cx="78.9" cy="384.4" r="0.66" fill="#d04c36" fill-opacity="0.66"/><circle cx="85.9" cy="386.7" r="0.58" fill="#d04c36" fill-opacity="0.66"/><circle cx="58.3" cy="373.3" r="0.76" fill="#d04c36" fill-opacity="0.66"/><circle cx="87.6" cy="374.3" r="0.71" fill="#d04c36" fill-opacity="0.66"/><circle cx="95.3" cy="388.6" r="0.64" fill="#d04c36" fill-opacity="0.66"/><circle cx="87.7" cy="390.1" r="0.76" fill="#d04c36" fill-opacity="0.66"/><circle cx="54.9" cy="381.9" r="0.60" fill="#d04c36" fill-opacity="0.66"/><circle cx="65.4" cy="397.4" r="0.73" fill="#d04c36" fill-opacity="0.66"/><circle cx="94.7" cy="391.5" r="0.60" fill="#d04c36" fill-opacity="0.66"/><circle cx="96.8" cy="371.5" r="0.84" fill="#d04c36" fill-opacity="0.66"/><circle cx="92.5" cy="366.7" r="0.93" fill="#d04c36" fill-opacity="0.66"/><circle cx="93.7" cy="380.6" r="0.86" fill="#d04c36" fill-opacity="0.66"/><circle cx="98.2" cy="379.1" r="0.95" fill="#d04c36" fill-opacity="0.66"/><circle cx="72.9" cy="356.1" r="0.44" fill="#d04c36" fill-opacity="0.66"/><circle cx="58.5" cy="373.0" r="0.64" fill="#d04c36" fill-opacity="0.66"/><circle cx="58.7" cy="388.5" r="0.49" fill="#d04c36" fill-opacity="0.66"/><circle cx="96.6" cy="383.5" r="0.93" fill="#d04c36" fill-opacity="0.66"/><circle cx="87.3" cy="359.8" r="0.56" fill="#d04c36" fill-opacity="0.66"/><circle cx="84.0" cy="373.7" r="0.54" fill="#d04c36" fill-opacity="0.66"/><circle cx="83.1" cy="355.9" r="0.62" fill="#d04c36" fill-opacity="0.66"/><circle cx="86.9" cy="372.1" r="0.73" fill="#d04c36" fill-opacity="0.66"/><circle cx="90.6" cy="383.8" r="0.50" fill="#d04c36" fill-opacity="0.66"/><circle cx="94.9" cy="378.7" r="0.68" fill="#d04c36" fill-opacity="0.66"/><circle cx="73.8" cy="397.9" r="0.43" fill="#d04c36" fill-opacity="0.66"/><circle cx="58.9" cy="375.9" r="0.62" fill="#d04c36" fill-opacity="0.66"/><circle cx="87.6" cy="372.2" r="0.63" fill="#d04c36" fill-opacity="0.66"/><circle cx="61.5" cy="382.2" r="0.94" fill="#d04c36" fill-opacity="0.66"/><circle cx="60.8" cy="369.8" r="0.64" fill="#d04c36" fill-opacity="0.66"/><circle cx="56.3" cy="386.9" r="0.84" fill="#d04c36" fill-opacity="0.66"/><circle cx="70.2" cy="368.0" r="0.73" fill="#d04c36" fill-opacity="0.66"/><circle cx="89.1" cy="389.8" r="0.41" fill="#d04c36" fill-opacity="0.66"/><circle cx="71.2" cy="355.5" r="0.75" fill="#d04c36" fill-opacity="0.66"/><circle cx="64.5" cy="371.8" r="0.64" fill="#d04c36" fill-opacity="0.66"/><circle cx="60.7" cy="381.9" r="0.55" fill="#d04c36" fill-opacity="0.66"/><circle cx="81.8" cy="399.0" r="0.92" fill="#d04c36" fill-opacity="0.66"/><circle cx="86.4" cy="360.0" r="0.42" fill="#d04c36" fill-opacity="0.66"/><circle cx="70.5" cy="399.0" r="0.93" fill="#d04c36" fill-opacity="0.66"/><circle cx="59.2" cy="372.3" r="0.78" fill="#d04c36" fill-opacity="0.66"/><circle cx="78.1" cy="399.0" r="0.60" fill="#d04c36" fill-opacity="0.66"/><circle cx="88.0" cy="363.2" r="0.76" fill="#d04c36" fill-opacity="0.66"/><circle cx="59.9" cy="371.5" r="0.65" fill="#d04c36" fill-opacity="0.66"/><circle cx="98.1" cy="371.7" r="0.63" fill="#d04c36" fill-opacity="0.66"/><circle cx="55.0" cy="377.2" r="0.81" fill="#d04c36" fill-opacity="0.66"/><circle cx="64.4" cy="358.9" r="0.46" fill="#d04c36" fill-opacity="0.66"/><circle cx="61.4" cy="366.4" r="0.65" fill="#d04c36" fill-opacity="0.66"/><circle cx="100.4" cy="372.6" r="0.61" fill="#d04c36" fill-opacity="0.66"/><circle cx="61.7" cy="363.6" r="0.78" fill="#d04c36" fill-opacity="0.66"/><circle cx="63.5" cy="394.6" r="0.59" fill="#d04c36" fill-opacity="0.66"/><circle cx="90.1" cy="394.3" r="0.76" fill="#d04c36" fill-opacity="0.66"/><circle cx="62.2" cy="388.1" r="0.94" fill="#d04c36" fill-opacity="0.66"/><circle cx="83.9" cy="361.9" r="0.90" fill="#d04c36" fill-opacity="0.66"/><circle cx="62.1" cy="370.6" r="0.76" fill="#d04c36" fill-opacity="0.66"/><circle cx="82.5" cy="355.8" r="0.77" fill="#d04c36" fill-opacity="0.66"/><circle cx="69.2" cy="363.1" r="0.42" fill="#d04c36" fill-opacity="0.66"/><circle cx="67.1" cy="381.1" r="0.92" fill="#d04c36" fill-opacity="0.66"/><circle cx="64.8" cy="393.1" r="0.80" fill="#d04c36" fill-opacity="0.66"/><circle cx="87.3" cy="398.0" r="0.58" fill="#d04c36" fill-opacity="0.66"/><circle cx="95.0" cy="387.6" r="0.62" fill="#d04c36" fill-opacity="0.66"/><circle cx="93.2" cy="369.3" r="0.45" fill="#d04c36" fill-opacity="0.66"/><circle cx="84.6" cy="378.8" r="0.67" fill="#d04c36" fill-opacity="0.66"/><circle cx="75.8" cy="369.9" r="0.58" fill="#d04c36" fill-opacity="0.66"/><circle cx="55.2" cy="381.1" r="0.93" fill="#d04c36" fill-opacity="0.66"/><circle cx="92.0" cy="363.7" r="0.72" fill="#d04c36" fill-opacity="0.66"/><circle cx="81.1" cy="397.6" r="0.49" fill="#d04c36" fill-opacity="0.66"/><circle cx="70.4" cy="398.9" r="0.71" fill="#d04c36" fill-opacity="0.66"/><circle cx="75.0" cy="360.1" r="0.55" fill="#d04c36" fill-opacity="0.66"/><circle cx="58.3" cy="377.5" r="0.53" fill="#d04c36" fill-opacity="0.66"/><circle cx="90.9" cy="358.6" r="0.50" fill="#d04c36" fill-opacity="0.66"/><circle cx="78.8" cy="399.9" r="0.80" fill="#d04c36" fill-opacity="0.66"/><circle cx="80.8" cy="397.3" r="0.53" fill="#d04c36" fill-opacity="0.66"/><circle cx="90.5" cy="363.1" r="0.68" fill="#d04c36" fill-opacity="0.66"/><circle cx="86.8" cy="392.6" r="0.66" fill="#d04c36" fill-opacity="0.66"/><circle cx="69.3" cy="387.9" r="0.51" fill="#d04c36" fill-opacity="0.66"/><circle cx="70.6" cy="356.1" r="0.86" fill="#d04c36" fill-opacity="0.66"/><circle cx="61.4" cy="363.6" r="0.47" fill="#d04c36" fill-opacity="0.66"/><circle cx="82.9" cy="398.2" r="0.40" fill="#d04c36" fill-opacity="0.66"/><circle cx="96.4" cy="388.9" r="0.51" fill="#d04c36" fill-opacity="0.66"/><circle cx="84.5" cy="393.7" r="0.86" fill="#d04c36" fill-opacity="0.66"/><circle cx="100.2" cy="379.5" r="0.57" fill="#d04c36" fill-opacity="0.66"/><circle cx="61.3" cy="370.2" r="0.47" fill="#d04c36" fill-opacity="0.66"/><circle cx="90.1" cy="374.7" r="0.84" fill="#d04c36" fill-opacity="0.66"/><circle cx="90.7" cy="365.7" r="0.93" fill="#d04c36" fill-opacity="0.66"/><circle cx="88.9" cy="382.7" r="0.67" fill="#d04c36" fill-opacity="0.66"/><circle cx="97.2" cy="387.9" r="0.69" fill="#d04c36" fill-opacity="0.66"/><circle cx="82.3" cy="363.5" r="0.41" fill="#d04c36" fill-opacity="0.66"/><circle cx="88.2" cy="369.3" r="0.63" fill="#d04c36" fill-opacity="0.66"/><circle cx="91.5" cy="391.9" r="0.66" fill="#d04c36" fill-opacity="0.66"/><circle cx="80.1" cy="385.2" r="0.59" fill="#d04c36" fill-opacity="0.66"/><circle cx="80.3" cy="366.0" r="0.53" fill="#d04c36" fill-opacity="0.66"/><circle cx="62.9" cy="364.3" r="0.84" fill="#d04c36" fill-opacity="0.66"/><circle cx="64.0" cy="360.4" r="0.49" fill="#d04c36" fill-opacity="0.66"/><circle cx="83.7" cy="374.8" r="0.47" fill="#d04c36" fill-opacity="0.66"/><circle cx="94.9" cy="391.1" r="0.68" fill="#d04c36" fill-opacity="0.66"/><circle cx="98.3" cy="366.9" r="0.92" fill="#d04c36" fill-opacity="0.66"/><circle cx="65.4" cy="367.2" r="0.93" fill="#d04c36" fill-opacity="0.66"/><circle cx="76.2" cy="364.7" r="0.70" fill="#d04c36" fill-opacity="0.66"/><circle cx="83.4" cy="378.7" r="0.75" fill="#d04c36" fill-opacity="0.66"/><circle cx="73.4" cy="356.0" r="0.81" fill="#d04c36" fill-opacity="0.66"/><circle cx="91.6" cy="394.1" r="0.94" fill="#d04c36" fill-opacity="0.66"/><circle cx="69.6" cy="361.6" r="0.56" fill="#d04c36" fill-opacity="0.66"/><circle cx="96.2" cy="385.8" r="0.93" fill="#d04c36" fill-opacity="0.66"/><circle cx="94.2" cy="392.6" r="0.89" fill="#d04c36" fill-opacity="0.66"/><circle cx="64.4" cy="395.8" r="0.49" fill="#d04c36" fill-opacity="0.66"/><circle cx="71.6" cy="396.4" r="0.88" fill="#d04c36" fill-opacity="0.66"/><circle cx="67.8" cy="375.7" r="0.91" fill="#d04c36" fill-opacity="0.66"/><circle cx="58.2" cy="368.6" r="0.53" fill="#d04c36" fill-opacity="0.66"/><circle cx="72.5" cy="386.8" r="0.50" fill="#d04c36" fill-opacity="0.66"/><circle cx="61.7" cy="384.7" r="0.76" fill="#d04c36" fill-opacity="0.66"/><circle cx="85.8" cy="364.1" r="0.91" fill="#d04c36" fill-opacity="0.66"/><circle cx="68.4" cy="364.7" r="0.50" fill="#d04c36" fill-opacity="0.66"/><circle cx="97.3" cy="372.4" r="0.42" fill="#d04c36" fill-opacity="0.66"/><circle cx="71.0" cy="362.6" r="0.63" fill="#d04c36" fill-opacity="0.66"/><circle cx="79.1" cy="364.1" r="0.55" fill="#d04c36" fill-opacity="0.66"/><circle cx="55.6" cy="372.3" r="0.45" fill="#d04c36" fill-opacity="0.66"/><circle cx="88.3" cy="359.8" r="0.50" fill="#d04c36" fill-opacity="0.66"/><circle cx="67.2" cy="361.0" r="0.79" fill="#d04c36" fill-opacity="0.66"/><circle cx="62.4" cy="374.4" r="0.68" fill="#d04c36" fill-opacity="0.66"/><circle cx="79.1" cy="395.9" r="0.62" fill="#d04c36" fill-opacity="0.66"/><circle cx="88.8" cy="386.8" r="0.59" fill="#d04c36" fill-opacity="0.66"/><circle cx="62.5" cy="390.0" r="0.81" fill="#d04c36" fill-opacity="0.66"/><circle cx="76.6" cy="397.2" r="0.59" fill="#d04c36" fill-opacity="0.66"/><circle cx="79.4" cy="389.7" r="0.93" fill="#d04c36" fill-opacity="0.66"/><circle cx="97.9" cy="368.9" r="0.49" fill="#d04c36" fill-opacity="0.66"/><circle cx="83.9" cy="386.7" r="0.57" fill="#d04c36" fill-opacity="0.66"/><circle cx="73.9" cy="379.9" r="0.63" fill="#d04c36" fill-opacity="0.66"/><circle cx="69.4" cy="357.4" r="0.50" fill="#d04c36" fill-opacity="0.66"/><circle cx="99.5" cy="378.2" r="0.61" fill="#d04c36" fill-opacity="0.66"/><circle cx="72.9" cy="389.3" r="0.55" fill="#d04c36" fill-opacity="0.66"/><circle cx="76.2" cy="392.6" r="0.53" fill="#d04c36" fill-opacity="0.66"/><circle cx="55.9" cy="375.6" r="0.57" fill="#d04c36" fill-opacity="0.66"/><circle cx="61.9" cy="387.2" r="0.86" fill="#d04c36" fill-opacity="0.66"/><circle cx="80.1" cy="354.6" r="0.50" fill="#d04c36" fill-opacity="0.66"/><circle cx="83.0" cy="363.5" r="0.72" fill="#d04c36" fill-opacity="0.66"/><circle cx="58.5" cy="374.7" r="0.58" fill="#d04c36" fill-opacity="0.66"/><circle cx="81.6" cy="379.9" r="0.91" fill="#d04c36" fill-opacity="0.66"/><circle cx="91.3" cy="366.2" r="0.45" fill="#d04c36" fill-opacity="0.66"/><circle cx="87.5" cy="362.2" r="0.66" fill="#d04c36" fill-opacity="0.66"/><circle cx="69.8" cy="368.5" r="0.52" fill="#d04c36" fill-opacity="0.66"/><circle cx="86.1" cy="358.5" r="0.94" fill="#d04c36" fill-opacity="0.66"/><circle cx="56.3" cy="387.5" r="0.89" fill="#d04c36" fill-opacity="0.66"/><circle cx="55.0" cy="376.9" r="0.49" fill="#d04c36" fill-opacity="0.66"/><circle cx="97.6" cy="387.4" r="0.48" fill="#d04c36" fill-opacity="0.66"/><circle cx="56.6" cy="375.9" r="0.77" fill="#d04c36" fill-opacity="0.66"/><circle cx="81.8" cy="399.3" r="0.42" fill="#d04c36" fill-opacity="0.66"/><circle cx="56.7" cy="369.4" r="0.70" fill="#d04c36" fill-opacity="0.66"/><circle cx="70.0" cy="400.3" r="0.80" fill="#d04c36" fill-opacity="0.66"/><circle cx="83.6" cy="356.0" r="0.91" fill="#d04c36" fill-opacity="0.66"/><circle cx="58.0" cy="368.1" r="0.68" fill="#d04c36" fill-opacity="0.66"/><circle cx="77.2" cy="393.1" r="0.54" fill="#d04c36" fill-opacity="0.66"/><circle cx="97.4" cy="381.2" r="0.62" fill="#d04c36" fill-opacity="0.66"/><circle cx="84.8" cy="373.5" r="0.83" fill="#d04c36" fill-opacity="0.66"/><circle cx="83.1" cy="393.0" r="0.56" fill="#d04c36" fill-opacity="0.66"/><circle cx="97.2" cy="372.6" r="0.66" fill="#d04c36" fill-opacity="0.66"/><circle cx="81.0" cy="385.5" r="0.60" fill="#d04c36" fill-opacity="0.66"/><circle cx="95.2" cy="375.1" r="0.77" fill="#d04c36" fill-opacity="0.66"/><circle cx="83.6" cy="372.4" r="0.58" fill="#d04c36" fill-opacity="0.66"/><circle cx="65.5" cy="384.9" r="0.61" fill="#d04c36" fill-opacity="0.66"/><circle cx="72.8" cy="367.4" r="0.78" fill="#d04c36" fill-opacity="0.66"/><circle cx="71.8" cy="397.5" r="0.50" fill="#d04c36" fill-opacity="0.66"/><circle cx="82.0" cy="361.1" r="0.86" fill="#d04c36" fill-opacity="0.66"/><circle cx="96.8" cy="374.0" r="0.41" fill="#d04c36" fill-opacity="0.66"/><circle cx="62.1" cy="395.5" r="0.76" fill="#d04c36" fill-opacity="0.66"/><circle cx="78.7" cy="359.8" r="0.92" fill="#d04c36" fill-opacity="0.66"/><circle cx="94.3" cy="367.0" r="0.72" fill="#d04c36" fill-opacity="0.66"/><circle cx="81.1" cy="380.5" r="0.51" fill="#d04c36" fill-opacity="0.66"/><circle cx="73.6" cy="356.1" r="0.82" fill="#d04c36" fill-opacity="0.66"/><circle cx="83.0" cy="373.5" r="0.42" fill="#d04c36" fill-opacity="0.66"/><circle cx="77.5" cy="383.8" r="0.72" fill="#d04c36" fill-opacity="0.66"/><circle cx="98.3" cy="368.3" r="0.46" fill="#d04c36" fill-opacity="0.66"/><circle cx="67.2" cy="360.4" r="0.76" fill="#d04c36" fill-opacity="0.66"/><circle cx="65.6" cy="385.5" r="0.89" fill="#d04c36" fill-opacity="0.66"/><circle cx="95.0" cy="366.0" r="0.70" fill="#d04c36" fill-opacity="0.66"/><circle cx="92.4" cy="381.1" r="0.53" fill="#d04c36" fill-opacity="0.66"/><circle cx="78.3" cy="391.8" r="0.77" fill="#d04c36" fill-opacity="0.66"/><circle cx="72.2" cy="366.4" r="0.90" fill="#d04c36" fill-opacity="0.66"/><circle cx="100.9" cy="378.1" r="0.72" fill="#d04c36" fill-opacity="0.66"/><circle cx="68.4" cy="366.0" r="0.78" fill="#d04c36" fill-opacity="0.66"/><circle cx="87.4" cy="368.5" r="0.47" fill="#d04c36" fill-opacity="0.66"/><circle cx="81.1" cy="363.9" r="0.46" fill="#d04c36" fill-opacity="0.66"/><circle cx="64.6" cy="378.7" r="0.52" fill="#d04c36" fill-opacity="0.66"/><circle cx="75.6" cy="387.7" r="0.85" fill="#d04c36" fill-opacity="0.66"/><circle cx="59.0" cy="369.9" r="0.56" fill="#d04c36" fill-opacity="0.66"/><circle cx="81.4" cy="355.0" r="0.95" fill="#d04c36" fill-opacity="0.66"/><circle cx="92.8" cy="382.1" r="0.45" fill="#d04c36" fill-opacity="0.66"/><circle cx="57.6" cy="381.2" r="0.73" fill="#d04c36" fill-opacity="0.66"/><circle cx="63.5" cy="396.5" r="0.74" fill="#d04c36" fill-opacity="0.66"/><circle cx="95.2" cy="377.6" r="0.75" fill="#d04c36" fill-opacity="0.66"/><circle cx="93.1" cy="389.1" r="0.76" fill="#d04c36" fill-opacity="0.66"/><circle cx="79.8" cy="397.9" r="0.47" fill="#d04c36" fill-opacity="0.66"/><circle cx="58.4" cy="382.8" r="0.66" fill="#d04c36" fill-opacity="0.66"/><circle cx="85.4" cy="388.8" r="0.61" fill="#d04c36" fill-opacity="0.66"/><circle cx="67.5" cy="363.6" r="0.51" fill="#d04c36" fill-opacity="0.66"/><circle cx="69.5" cy="391.3" r="0.48" fill="#d04c36" fill-opacity="0.66"/><circle cx="62.3" cy="368.4" r="0.58" fill="#d04c36" fill-opacity="0.66"/><circle cx="100.6" cy="378.2" r="0.42" fill="#d04c36" fill-opacity="0.66"/><circle cx="89.2" cy="388.2" r="0.83" fill="#d04c36" fill-opacity="0.66"/><circle cx="97.5" cy="369.7" r="0.51" fill="#d04c36" fill-opacity="0.66"/><circle cx="81.5" cy="372.0" r="0.46" fill="#d04c36" fill-opacity="0.66"/><circle cx="92.4" cy="390.5" r="0.73" fill="#d04c36" fill-opacity="0.66"/><circle cx="61.5" cy="361.4" r="0.81" fill="#d04c36" fill-opacity="0.66"/><circle cx="77.2" cy="365.2" r="0.90" fill="#d04c36" fill-opacity="0.66"/><circle cx="97.0" cy="367.2" r="0.44" fill="#d04c36" fill-opacity="0.66"/><circle cx="73.5" cy="359.7" r="0.70" fill="#d04c36" fill-opacity="0.66"/><circle cx="75.3" cy="399.4" r="0.84" fill="#d04c36" fill-opacity="0.66"/><circle cx="79.6" cy="362.6" r="0.80" fill="#d04c36" fill-opacity="0.66"/><circle cx="95.4" cy="388.7" r="0.42" fill="#d04c36" fill-opacity="0.66"/><circle cx="88.4" cy="378.4" r="0.76" fill="#d04c36" fill-opacity="0.66"/><circle cx="95.7" cy="376.2" r="0.75" fill="#d04c36" fill-opacity="0.66"/><circle cx="58.7" cy="366.5" r="0.93" fill="#d04c36" fill-opacity="0.66"/><circle cx="84.3" cy="363.4" r="0.44" fill="#d04c36" fill-opacity="0.66"/><circle cx="89.5" cy="368.6" r="0.82" fill="#d04c36" fill-opacity="0.66"/><circle cx="86.1" cy="368.5" r="0.51" fill="#d04c36" fill-opacity="0.66"/><circle cx="58.0" cy="388.4" r="0.87" fill="#d04c36" fill-opacity="0.66"/><circle cx="92.7" cy="377.3" r="0.74" fill="#d04c36" fill-opacity="0.66"/><circle cx="89.4" cy="366.0" r="0.72" fill="#d04c36" fill-opacity="0.66"/><circle cx="81.3" cy="400.1" r="0.64" fill="#d04c36" fill-opacity="0.66"/><circle cx="57.4" cy="379.8" r="0.58" fill="#d04c36" fill-opacity="0.66"/><circle cx="84.6" cy="361.4" r="0.64" fill="#d04c36" fill-opacity="0.66"/><circle cx="74.6" cy="357.7" r="0.79" fill="#d04c36" fill-opacity="0.66"/><circle cx="93.2" cy="362.5" r="0.62" fill="#d04c36" fill-opacity="0.66"/><circle cx="63.8" cy="360.4" r="0.43" fill="#d04c36" fill-opacity="0.66"/><circle cx="67.5" cy="362.1" r="0.62" fill="#d04c36" fill-opacity="0.66"/><circle cx="88.9" cy="388.4" r="0.81" fill="#d04c36" fill-opacity="0.66"/><circle cx="95.3" cy="362.4" r="0.81" fill="#d04c36" fill-opacity="0.66"/><circle cx="93.8" cy="362.9" r="0.49" fill="#d04c36" fill-opacity="0.66"/><circle cx="69.5" cy="357.1" r="0.81" fill="#d04c36" fill-opacity="0.66"/><circle cx="74.2" cy="398.6" r="0.61" fill="#d04c36" fill-opacity="0.66"/><circle cx="58.4" cy="386.7" r="0.77" fill="#d04c36" fill-opacity="0.66"/><circle cx="91.0" cy="393.2" r="0.43" fill="#d04c36" fill-opacity="0.66"/><circle cx="83.6" cy="399.3" r="0.90" fill="#d04c36" fill-opacity="0.66"/></g><circle cx="77.7" cy="433" r="24.6" fill="#f6ecd6" filter="url(#bl)"/><g filter="url(#bl)"><circle cx="79.0" cy="450.4" r="0.60" fill="#d65540" fill-opacity="0.66"/><circle cx="62.9" cy="421.7" r="0.44" fill="#d65540" fill-opacity="0.66"/><circle cx="99.2" cy="434.8" r="0.54" fill="#d65540" fill-opacity="0.66"/><circle cx="80.0" cy="456.5" r="0.66" fill="#d65540" fill-opacity="0.66"/><circle cx="86.1" cy="419.0" r="0.75" fill="#d65540" fill-opacity="0.66"/><circle cx="88.7" cy="448.3" r="0.88" fill="#d65540" fill-opacity="0.66"/><circle cx="57.6" cy="430.0" r="0.77" fill="#d65540" fill-opacity="0.66"/><circle cx="96.6" cy="441.1" r="0.73" fill="#d65540" fill-opacity="0.66"/><circle cx="76.4" cy="436.9" r="0.88" fill="#d65540" fill-opacity="0.66"/><circle cx="58.0" cy="436.4" r="0.88" fill="#d65540" fill-opacity="0.66"/><circle cx="72.6" cy="410.9" r="0.62" fill="#d65540" fill-opacity="0.66"/><circle cx="82.7" cy="418.1" r="0.91" fill="#d65540" fill-opacity="0.66"/><circle cx="83.0" cy="427.9" r="0.47" fill="#d65540" fill-opacity="0.66"/><circle cx="82.5" cy="455.7" r="0.64" fill="#d65540" fill-opacity="0.66"/><circle cx="68.6" cy="423.7" r="0.68" fill="#d65540" fill-opacity="0.66"/><circle cx="67.2" cy="442.2" r="0.72" fill="#d65540" fill-opacity="0.66"/><circle cx="58.3" cy="421.7" r="0.78" fill="#d65540" fill-opacity="0.66"/><circle cx="97.4" cy="423.6" r="0.95" fill="#d65540" fill-opacity="0.66"/><circle cx="73.2" cy="424.6" r="0.87" fill="#d65540" fill-opacity="0.66"/><circle cx="99.6" cy="428.0" r="0.71" fill="#d65540" fill-opacity="0.66"/><circle cx="75.3" cy="422.4" r="0.86" fill="#d65540" fill-opacity="0.66"/><circle cx="66.4" cy="427.4" r="0.43" fill="#d65540" fill-opacity="0.66"/><circle cx="92.0" cy="414.3" r="0.45" fill="#d65540" fill-opacity="0.66"/><circle cx="82.4" cy="418.6" r="0.48" fill="#d65540" fill-opacity="0.66"/><circle cx="72.1" cy="452.9" r="0.88" fill="#d65540" fill-opacity="0.66"/><circle cx="95.5" cy="438.1" r="0.42" fill="#d65540" fill-opacity="0.66"/><circle cx="75.0" cy="419.7" r="0.88" fill="#d65540" fill-opacity="0.66"/><circle cx="94.4" cy="431.0" r="0.95" fill="#d65540" fill-opacity="0.66"/><circle cx="75.3" cy="439.1" r="0.73" fill="#d65540" fill-opacity="0.66"/><circle cx="88.0" cy="435.1" r="0.62" fill="#d65540" fill-opacity="0.66"/><circle cx="70.5" cy="427.0" r="0.42" fill="#d65540" fill-opacity="0.66"/><circle cx="86.6" cy="423.2" r="0.93" fill="#d65540" fill-opacity="0.66"/><circle cx="89.3" cy="424.2" r="0.65" fill="#d65540" fill-opacity="0.66"/><circle cx="58.9" cy="430.6" r="0.73" fill="#d65540" fill-opacity="0.66"/><circle cx="60.4" cy="426.2" r="0.92" fill="#d65540" fill-opacity="0.66"/><circle cx="62.2" cy="432.3" r="0.80" fill="#d65540" fill-opacity="0.66"/><circle cx="78.7" cy="445.9" r="0.94" fill="#d65540" fill-opacity="0.66"/><circle cx="60.4" cy="430.7" r="0.41" fill="#d65540" fill-opacity="0.66"/><circle cx="62.2" cy="442.1" r="0.41" fill="#d65540" fill-opacity="0.66"/><circle cx="63.7" cy="420.5" r="0.43" fill="#d65540" fill-opacity="0.66"/><circle cx="66.5" cy="421.4" r="0.77" fill="#d65540" fill-opacity="0.66"/><circle cx="65.8" cy="448.9" r="0.81" fill="#d65540" fill-opacity="0.66"/><circle cx="83.5" cy="433.8" r="0.77" fill="#d65540" fill-opacity="0.66"/><circle cx="89.2" cy="430.3" r="0.65" fill="#d65540" fill-opacity="0.66"/><circle cx="66.5" cy="425.7" r="0.60" fill="#d65540" fill-opacity="0.66"/><circle cx="72.2" cy="446.3" r="0.73" fill="#d65540" fill-opacity="0.66"/><circle cx="73.2" cy="446.8" r="0.82" fill="#d65540" fill-opacity="0.66"/><circle cx="95.3" cy="436.0" r="0.80" fill="#d65540" fill-opacity="0.66"/><circle cx="73.6" cy="443.4" r="0.84" fill="#d65540" fill-opacity="0.66"/><circle cx="78.4" cy="443.2" r="0.64" fill="#d65540" fill-opacity="0.66"/><circle cx="75.3" cy="425.9" r="0.58" fill="#d65540" fill-opacity="0.66"/><circle cx="66.9" cy="451.6" r="0.64" fill="#d65540" fill-opacity="0.66"/><circle cx="83.7" cy="425.3" r="0.59" fill="#d65540" fill-opacity="0.66"/><circle cx="64.7" cy="415.0" r="0.65" fill="#d65540" fill-opacity="0.66"/><circle cx="79.0" cy="441.1" r="0.69" fill="#d65540" fill-opacity="0.66"/><circle cx="85.4" cy="452.8" r="0.86" fill="#d65540" fill-opacity="0.66"/><circle cx="82.8" cy="444.4" r="0.84" fill="#d65540" fill-opacity="0.66"/><circle cx="64.4" cy="416.5" r="0.59" fill="#d65540" fill-opacity="0.66"/><circle cx="86.5" cy="442.3" r="0.84" fill="#d65540" fill-opacity="0.66"/><circle cx="75.9" cy="446.8" r="0.63" fill="#d65540" fill-opacity="0.66"/><circle cx="64.5" cy="440.3" r="0.91" fill="#d65540" fill-opacity="0.66"/><circle cx="78.6" cy="434.3" r="0.92" fill="#d65540" fill-opacity="0.66"/><circle cx="94.8" cy="416.9" r="0.64" fill="#d65540" fill-opacity="0.66"/><circle cx="99.3" cy="426.0" r="0.52" fill="#d65540" fill-opacity="0.66"/><circle cx="77.1" cy="411.4" r="0.76" fill="#d65540" fill-opacity="0.66"/><circle cx="65.1" cy="431.5" r="0.59" fill="#d65540" fill-opacity="0.66"/><circle cx="78.6" cy="439.1" r="0.72" fill="#d65540" fill-opacity="0.66"/><circle cx="72.8" cy="453.7" r="0.42" fill="#d65540" fill-opacity="0.66"/><circle cx="93.9" cy="421.8" r="0.91" fill="#d65540" fill-opacity="0.66"/><circle cx="95.5" cy="419.4" r="0.72" fill="#d65540" fill-opacity="0.66"/><circle cx="98.0" cy="434.7" r="0.49" fill="#d65540" fill-opacity="0.66"/><circle cx="71.8" cy="451.3" r="0.69" fill="#d65540" fill-opacity="0.66"/><circle cx="58.1" cy="444.8" r="0.74" fill="#d65540" fill-opacity="0.66"/><circle cx="71.3" cy="443.0" r="0.87" fill="#d65540" fill-opacity="0.66"/><circle cx="57.0" cy="436.0" r="0.59" fill="#d65540" fill-opacity="0.66"/><circle cx="83.3" cy="449.3" r="0.85" fill="#d65540" fill-opacity="0.66"/><circle cx="87.7" cy="451.5" r="0.91" fill="#d65540" fill-opacity="0.66"/><circle cx="85.1" cy="412.9" r="0.40" fill="#d65540" fill-opacity="0.66"/><circle cx="62.5" cy="417.1" r="0.43" fill="#d65540" fill-opacity="0.66"/><circle cx="76.1" cy="445.1" r="0.69" fill="#d65540" fill-opacity="0.66"/><circle cx="63.3" cy="440.6" r="0.83" fill="#d65540" fill-opacity="0.66"/><circle cx="83.2" cy="433.1" r="0.47" fill="#d65540" fill-opacity="0.66"/><circle cx="82.1" cy="437.4" r="0.94" fill="#d65540" fill-opacity="0.66"/><circle cx="81.9" cy="427.5" r="0.68" fill="#d65540" fill-opacity="0.66"/><circle cx="72.4" cy="445.1" r="0.59" fill="#d65540" fill-opacity="0.66"/><circle cx="66.8" cy="418.6" r="0.60" fill="#d65540" fill-opacity="0.66"/><circle cx="82.6" cy="445.6" r="0.47" fill="#d65540" fill-opacity="0.66"/><circle cx="58.9" cy="426.2" r="0.61" fill="#d65540" fill-opacity="0.66"/><circle cx="86.4" cy="437.8" r="0.61" fill="#d65540" fill-opacity="0.66"/><circle cx="61.1" cy="420.3" r="0.61" fill="#d65540" fill-opacity="0.66"/><circle cx="83.6" cy="415.3" r="0.64" fill="#d65540" fill-opacity="0.66"/><circle cx="66.1" cy="445.0" r="0.79" fill="#d65540" fill-opacity="0.66"/><circle cx="60.4" cy="442.4" r="0.65" fill="#d65540" fill-opacity="0.66"/><circle cx="78.2" cy="450.3" r="0.78" fill="#d65540" fill-opacity="0.66"/><circle cx="91.6" cy="439.7" r="0.63" fill="#d65540" fill-opacity="0.66"/><circle cx="94.3" cy="417.3" r="0.61" fill="#d65540" fill-opacity="0.66"/><circle cx="94.5" cy="420.4" r="0.54" fill="#d65540" fill-opacity="0.66"/><circle cx="69.6" cy="434.9" r="0.85" fill="#d65540" fill-opacity="0.66"/><circle cx="66.1" cy="414.0" r="0.84" fill="#d65540" fill-opacity="0.66"/><circle cx="67.7" cy="415.4" r="0.71" fill="#d65540" fill-opacity="0.66"/><circle cx="92.1" cy="443.9" r="0.40" fill="#d65540" fill-opacity="0.66"/><circle cx="90.6" cy="449.3" r="0.42" fill="#d65540" fill-opacity="0.66"/><circle cx="83.9" cy="437.1" r="0.88" fill="#d65540" fill-opacity="0.66"/><circle cx="79.3" cy="436.3" r="0.86" fill="#d65540" fill-opacity="0.66"/><circle cx="93.4" cy="448.0" r="0.77" fill="#d65540" fill-opacity="0.66"/></g><circle cx="77.7" cy="488" r="24.6" fill="#f6e1cc" filter="url(#bl)"/><g filter="url(#bl)"><circle cx="78.4" cy="495.6" r="0.62" fill="#d45238" fill-opacity="0.62"/><circle cx="81.1" cy="493.0" r="0.62" fill="#d45238" fill-opacity="0.62"/><circle cx="96.1" cy="477.6" r="0.82" fill="#d45238" fill-opacity="0.62"/><circle cx="80.7" cy="505.0" r="0.55" fill="#d45238" fill-opacity="0.62"/><circle cx="81.3" cy="494.8" r="0.52" fill="#d45238" fill-opacity="0.62"/><circle cx="97.0" cy="478.5" r="0.84" fill="#d45238" fill-opacity="0.62"/><circle cx="80.9" cy="478.1" r="0.57" fill="#d45238" fill-opacity="0.62"/><circle cx="63.6" cy="473.5" r="0.87" fill="#d45238" fill-opacity="0.62"/><circle cx="82.8" cy="483.2" r="0.73" fill="#d45238" fill-opacity="0.62"/><circle cx="69.8" cy="473.2" r="0.50" fill="#d45238" fill-opacity="0.62"/><circle cx="70.7" cy="489.2" r="0.91" fill="#d45238" fill-opacity="0.62"/><circle cx="89.3" cy="474.9" r="0.57" fill="#d45238" fill-opacity="0.62"/><circle cx="92.7" cy="478.3" r="0.89" fill="#d45238" fill-opacity="0.62"/><circle cx="87.4" cy="474.3" r="0.63" fill="#d45238" fill-opacity="0.62"/><circle cx="65.1" cy="479.0" r="0.49" fill="#d45238" fill-opacity="0.62"/><circle cx="70.5" cy="508.0" r="0.42" fill="#d45238" fill-opacity="0.62"/><circle cx="95.6" cy="493.4" r="0.55" fill="#d45238" fill-opacity="0.62"/><circle cx="61.9" cy="484.5" r="0.59" fill="#d45238" fill-opacity="0.62"/><circle cx="88.1" cy="487.8" r="0.63" fill="#d45238" fill-opacity="0.62"/><circle cx="83.2" cy="506.0" r="0.55" fill="#d45238" fill-opacity="0.62"/><circle cx="65.1" cy="504.1" r="0.58" fill="#d45238" fill-opacity="0.62"/><circle cx="56.7" cy="479.9" r="0.46" fill="#d45238" fill-opacity="0.62"/><circle cx="88.2" cy="492.3" r="0.82" fill="#d45238" fill-opacity="0.62"/><circle cx="69.1" cy="480.4" r="0.58" fill="#d45238" fill-opacity="0.62"/><circle cx="84.7" cy="502.4" r="0.42" fill="#d45238" fill-opacity="0.62"/><circle cx="70.4" cy="466.9" r="0.93" fill="#d45238" fill-opacity="0.62"/><circle cx="75.5" cy="465.0" r="0.41" fill="#d45238" fill-opacity="0.62"/><circle cx="72.1" cy="510.5" r="0.83" fill="#d45238" fill-opacity="0.62"/><circle cx="58.3" cy="500.2" r="0.74" fill="#d45238" fill-opacity="0.62"/><circle cx="83.0" cy="476.4" r="0.51" fill="#d45238" fill-opacity="0.62"/><circle cx="69.5" cy="491.0" r="0.61" fill="#d45238" fill-opacity="0.62"/><circle cx="90.9" cy="484.8" r="0.41" fill="#d45238" fill-opacity="0.62"/><circle cx="87.0" cy="490.7" r="0.83" fill="#d45238" fill-opacity="0.62"/><circle cx="69.4" cy="497.7" r="0.45" fill="#d45238" fill-opacity="0.62"/><circle cx="93.0" cy="486.2" r="0.51" fill="#d45238" fill-opacity="0.62"/><circle cx="82.9" cy="490.0" r="0.49" fill="#d45238" fill-opacity="0.62"/><circle cx="73.6" cy="479.8" r="0.42" fill="#d45238" fill-opacity="0.62"/><circle cx="65.9" cy="488.7" r="0.95" fill="#d45238" fill-opacity="0.62"/><circle cx="90.1" cy="499.9" r="0.83" fill="#d45238" fill-opacity="0.62"/><circle cx="57.9" cy="500.7" r="0.66" fill="#d45238" fill-opacity="0.62"/><circle cx="78.5" cy="503.1" r="0.42" fill="#d45238" fill-opacity="0.62"/><circle cx="67.3" cy="493.6" r="0.89" fill="#d45238" fill-opacity="0.62"/><circle cx="85.8" cy="473.4" r="0.42" fill="#d45238" fill-opacity="0.62"/><circle cx="77.4" cy="499.6" r="0.51" fill="#d45238" fill-opacity="0.62"/><circle cx="80.3" cy="509.9" r="0.48" fill="#d45238" fill-opacity="0.62"/><circle cx="99.3" cy="495.2" r="0.71" fill="#d45238" fill-opacity="0.62"/><circle cx="92.7" cy="487.1" r="0.90" fill="#d45238" fill-opacity="0.62"/><circle cx="65.8" cy="470.7" r="0.81" fill="#d45238" fill-opacity="0.62"/><circle cx="70.5" cy="488.3" r="0.52" fill="#d45238" fill-opacity="0.62"/><circle cx="93.4" cy="472.0" r="0.91" fill="#d45238" fill-opacity="0.62"/><circle cx="67.8" cy="504.4" r="0.84" fill="#d45238" fill-opacity="0.62"/><circle cx="64.4" cy="471.4" r="0.69" fill="#d45238" fill-opacity="0.62"/><circle cx="66.7" cy="471.8" r="0.55" fill="#d45238" fill-opacity="0.62"/><circle cx="98.1" cy="477.2" r="0.44" fill="#d45238" fill-opacity="0.62"/><circle cx="100.5" cy="483.8" r="0.77" fill="#d45238" fill-opacity="0.62"/><circle cx="99.2" cy="494.2" r="0.47" fill="#d45238" fill-opacity="0.62"/><circle cx="96.6" cy="484.2" r="0.43" fill="#d45238" fill-opacity="0.62"/><circle cx="87.0" cy="504.3" r="0.71" fill="#d45238" fill-opacity="0.62"/><circle cx="77.2" cy="465.3" r="0.52" fill="#d45238" fill-opacity="0.62"/><circle cx="100.4" cy="488.5" r="0.41" fill="#d45238" fill-opacity="0.62"/><circle cx="83.4" cy="482.4" r="0.85" fill="#d45238" fill-opacity="0.62"/><circle cx="82.3" cy="466.3" r="0.70" fill="#d45238" fill-opacity="0.62"/><circle cx="85.4" cy="480.7" r="0.77" fill="#d45238" fill-opacity="0.62"/><circle cx="66.9" cy="507.5" r="0.83" fill="#d45238" fill-opacity="0.62"/><circle cx="60.8" cy="491.1" r="0.41" fill="#d45238" fill-opacity="0.62"/><circle cx="95.5" cy="491.9" r="0.67" fill="#d45238" fill-opacity="0.62"/><circle cx="89.9" cy="474.2" r="0.48" fill="#d45238" fill-opacity="0.62"/><circle cx="64.3" cy="503.7" r="0.69" fill="#d45238" fill-opacity="0.62"/><circle cx="99.3" cy="489.4" r="0.86" fill="#d45238" fill-opacity="0.62"/><circle cx="92.7" cy="496.9" r="0.61" fill="#d45238" fill-opacity="0.62"/><circle cx="80.8" cy="475.2" r="0.53" fill="#d45238" fill-opacity="0.62"/><circle cx="54.6" cy="489.9" r="0.45" fill="#d45238" fill-opacity="0.62"/><circle cx="91.7" cy="500.3" r="0.89" fill="#d45238" fill-opacity="0.62"/><circle cx="62.2" cy="486.8" r="0.87" fill="#d45238" fill-opacity="0.62"/><circle cx="78.7" cy="482.0" r="0.88" fill="#d45238" fill-opacity="0.62"/><circle cx="82.0" cy="500.2" r="0.86" fill="#d45238" fill-opacity="0.62"/><circle cx="59.1" cy="497.9" r="0.49" fill="#d45238" fill-opacity="0.62"/><circle cx="84.7" cy="481.0" r="0.48" fill="#d45238" fill-opacity="0.62"/><circle cx="64.0" cy="488.5" r="0.70" fill="#d45238" fill-opacity="0.62"/><circle cx="94.1" cy="476.7" r="0.40" fill="#d45238" fill-opacity="0.62"/><circle cx="71.1" cy="504.1" r="0.67" fill="#d45238" fill-opacity="0.62"/><circle cx="74.2" cy="471.9" r="0.44" fill="#d45238" fill-opacity="0.62"/><circle cx="78.3" cy="509.7" r="0.60" fill="#d45238" fill-opacity="0.62"/><circle cx="80.2" cy="464.7" r="0.74" fill="#d45238" fill-opacity="0.62"/><circle cx="69.5" cy="471.5" r="0.57" fill="#d45238" fill-opacity="0.62"/><circle cx="91.5" cy="479.6" r="0.90" fill="#d45238" fill-opacity="0.62"/><circle cx="70.2" cy="508.7" r="0.83" fill="#d45238" fill-opacity="0.62"/><circle cx="65.8" cy="477.8" r="0.48" fill="#d45238" fill-opacity="0.62"/><circle cx="79.6" cy="473.9" r="0.76" fill="#d45238" fill-opacity="0.62"/><circle cx="82.2" cy="493.0" r="0.48" fill="#d45238" fill-opacity="0.62"/><circle cx="81.3" cy="478.7" r="0.90" fill="#d45238" fill-opacity="0.62"/><circle cx="65.3" cy="500.9" r="0.59" fill="#d45238" fill-opacity="0.62"/><circle cx="72.5" cy="483.0" r="0.62" fill="#d45238" fill-opacity="0.62"/><circle cx="86.9" cy="484.1" r="0.76" fill="#d45238" fill-opacity="0.62"/><circle cx="71.7" cy="499.5" r="0.41" fill="#d45238" fill-opacity="0.62"/><circle cx="100.5" cy="490.9" r="0.86" fill="#d45238" fill-opacity="0.62"/><circle cx="84.4" cy="467.9" r="0.92" fill="#d45238" fill-opacity="0.62"/><circle cx="87.5" cy="503.1" r="0.67" fill="#d45238" fill-opacity="0.62"/><circle cx="57.2" cy="477.8" r="0.82" fill="#d45238" fill-opacity="0.62"/><circle cx="85.6" cy="486.4" r="0.76" fill="#d45238" fill-opacity="0.62"/><circle cx="68.5" cy="469.8" r="0.74" fill="#d45238" fill-opacity="0.62"/><circle cx="84.1" cy="476.7" r="0.91" fill="#d45238" fill-opacity="0.62"/><circle cx="62.5" cy="498.2" r="0.89" fill="#d45238" fill-opacity="0.62"/><circle cx="73.9" cy="475.4" r="0.53" fill="#d45238" fill-opacity="0.62"/><circle cx="69.0" cy="504.6" r="0.95" fill="#d45238" fill-opacity="0.62"/><circle cx="89.7" cy="479.1" r="0.62" fill="#d45238" fill-opacity="0.62"/><circle cx="82.9" cy="476.5" r="0.63" fill="#d45238" fill-opacity="0.62"/><circle cx="87.8" cy="488.8" r="0.70" fill="#d45238" fill-opacity="0.62"/><circle cx="71.2" cy="470.6" r="0.60" fill="#d45238" fill-opacity="0.62"/><circle cx="95.5" cy="482.4" r="0.49" fill="#d45238" fill-opacity="0.62"/><circle cx="98.9" cy="497.6" r="0.94" fill="#d45238" fill-opacity="0.62"/><circle cx="93.8" cy="479.2" r="0.57" fill="#d45238" fill-opacity="0.62"/><circle cx="87.8" cy="494.5" r="0.52" fill="#d45238" fill-opacity="0.62"/><circle cx="97.8" cy="478.3" r="0.83" fill="#d45238" fill-opacity="0.62"/><circle cx="84.6" cy="497.3" r="0.56" fill="#d45238" fill-opacity="0.62"/><circle cx="86.7" cy="484.9" r="0.83" fill="#d45238" fill-opacity="0.62"/><circle cx="70.3" cy="472.2" r="0.93" fill="#d45238" fill-opacity="0.62"/><circle cx="76.4" cy="505.0" r="0.49" fill="#d45238" fill-opacity="0.62"/><circle cx="81.2" cy="490.4" r="0.57" fill="#d45238" fill-opacity="0.62"/><circle cx="81.9" cy="492.0" r="0.95" fill="#d45238" fill-opacity="0.62"/><circle cx="72.3" cy="509.6" r="0.79" fill="#d45238" fill-opacity="0.62"/><circle cx="75.5" cy="469.0" r="0.92" fill="#d45238" fill-opacity="0.62"/><circle cx="92.2" cy="474.1" r="0.71" fill="#d45238" fill-opacity="0.62"/><circle cx="70.7" cy="469.2" r="0.70" fill="#d45238" fill-opacity="0.62"/><circle cx="68.4" cy="487.9" r="0.86" fill="#d45238" fill-opacity="0.62"/><circle cx="71.6" cy="488.6" r="0.49" fill="#d45238" fill-opacity="0.62"/><circle cx="86.1" cy="479.5" r="0.62" fill="#d45238" fill-opacity="0.62"/><circle cx="68.6" cy="468.0" r="0.58" fill="#d45238" fill-opacity="0.62"/><circle cx="66.1" cy="498.0" r="0.42" fill="#d45238" fill-opacity="0.62"/><circle cx="80.0" cy="485.7" r="0.93" fill="#d45238" fill-opacity="0.62"/><circle cx="83.1" cy="495.6" r="0.87" fill="#d45238" fill-opacity="0.62"/><circle cx="82.8" cy="477.8" r="0.70" fill="#d45238" fill-opacity="0.62"/><circle cx="57.9" cy="490.9" r="0.50" fill="#d45238" fill-opacity="0.62"/><circle cx="88.5" cy="467.0" r="0.79" fill="#d45238" fill-opacity="0.62"/><circle cx="97.8" cy="477.1" r="0.61" fill="#d45238" fill-opacity="0.62"/><circle cx="90.1" cy="470.4" r="0.72" fill="#d45238" fill-opacity="0.62"/><circle cx="92.2" cy="499.6" r="0.90" fill="#d45238" fill-opacity="0.62"/><circle cx="71.2" cy="505.9" r="0.89" fill="#d45238" fill-opacity="0.62"/><circle cx="74.0" cy="485.3" r="0.75" fill="#d45238" fill-opacity="0.62"/><circle cx="76.9" cy="509.9" r="0.76" fill="#d45238" fill-opacity="0.62"/><circle cx="69.8" cy="508.9" r="0.74" fill="#d45238" fill-opacity="0.62"/><circle cx="66.2" cy="506.3" r="0.89" fill="#d45238" fill-opacity="0.62"/><circle cx="95.1" cy="474.2" r="0.76" fill="#d45238" fill-opacity="0.62"/><circle cx="71.9" cy="470.6" r="0.69" fill="#d45238" fill-opacity="0.62"/><circle cx="91.7" cy="486.9" r="0.44" fill="#d45238" fill-opacity="0.62"/><circle cx="73.9" cy="471.8" r="0.70" fill="#d45238" fill-opacity="0.62"/><circle cx="68.1" cy="481.2" r="0.51" fill="#d45238" fill-opacity="0.62"/><circle cx="96.5" cy="497.0" r="0.90" fill="#d45238" fill-opacity="0.62"/><circle cx="75.0" cy="480.4" r="0.94" fill="#d45238" fill-opacity="0.62"/><circle cx="85.5" cy="473.1" r="0.40" fill="#d45238" fill-opacity="0.62"/><circle cx="88.1" cy="472.5" r="0.74" fill="#d45238" fill-opacity="0.62"/><circle cx="97.8" cy="490.3" r="0.42" fill="#d45238" fill-opacity="0.62"/><circle cx="68.8" cy="489.2" r="0.60" fill="#d45238" fill-opacity="0.62"/><circle cx="93.5" cy="475.0" r="0.85" fill="#d45238" fill-opacity="0.62"/><circle cx="73.3" cy="502.1" r="0.73" fill="#d45238" fill-opacity="0.62"/><circle cx="92.5" cy="491.2" r="0.94" fill="#d45238" fill-opacity="0.62"/><circle cx="78.3" cy="466.1" r="0.56" fill="#d45238" fill-opacity="0.62"/><circle cx="70.1" cy="468.5" r="0.79" fill="#d45238" fill-opacity="0.62"/><circle cx="68.6" cy="491.8" r="0.41" fill="#d45238" fill-opacity="0.62"/><circle cx="95.0" cy="473.1" r="0.55" fill="#d45238" fill-opacity="0.62"/><circle cx="78.2" cy="472.9" r="0.75" fill="#d45238" fill-opacity="0.62"/><circle cx="85.0" cy="476.8" r="0.74" fill="#d45238" fill-opacity="0.62"/><circle cx="77.1" cy="504.9" r="0.42" fill="#d45238" fill-opacity="0.62"/><circle cx="76.6" cy="500.6" r="0.90" fill="#d45238" fill-opacity="0.62"/><circle cx="91.5" cy="503.2" r="0.45" fill="#d45238" fill-opacity="0.62"/><circle cx="87.3" cy="487.2" r="0.45" fill="#d45238" fill-opacity="0.62"/><circle cx="83.2" cy="510.2" r="0.77" fill="#d45238" fill-opacity="0.62"/><circle cx="90.6" cy="477.4" r="0.46" fill="#d45238" fill-opacity="0.62"/><circle cx="69.1" cy="501.4" r="0.94" fill="#d45238" fill-opacity="0.62"/><circle cx="83.5" cy="498.1" r="0.86" fill="#d45238" fill-opacity="0.62"/><circle cx="95.3" cy="503.3" r="0.56" fill="#d45238" fill-opacity="0.62"/><circle cx="60.2" cy="480.1" r="0.90" fill="#d45238" fill-opacity="0.62"/><circle cx="97.0" cy="498.0" r="0.50" fill="#d45238" fill-opacity="0.62"/><circle cx="76.9" cy="484.2" r="0.82" fill="#d45238" fill-opacity="0.62"/><circle cx="82.2" cy="497.7" r="0.42" fill="#d45238" fill-opacity="0.62"/><circle cx="71.6" cy="500.1" r="0.94" fill="#d45238" fill-opacity="0.62"/><circle cx="66.5" cy="479.1" r="0.94" fill="#d45238" fill-opacity="0.62"/><circle cx="82.9" cy="497.7" r="0.93" fill="#d45238" fill-opacity="0.62"/><circle cx="96.3" cy="482.1" r="0.94" fill="#d45238" fill-opacity="0.62"/><circle cx="98.7" cy="495.9" r="0.79" fill="#d45238" fill-opacity="0.62"/><circle cx="67.0" cy="469.1" r="0.46" fill="#d45238" fill-opacity="0.62"/><circle cx="80.4" cy="496.3" r="0.66" fill="#d45238" fill-opacity="0.62"/><circle cx="61.1" cy="483.0" r="0.60" fill="#d45238" fill-opacity="0.62"/><circle cx="76.8" cy="466.4" r="0.82" fill="#d45238" fill-opacity="0.62"/><circle cx="86.7" cy="490.2" r="0.52" fill="#d45238" fill-opacity="0.62"/><circle cx="79.0" cy="505.8" r="0.51" fill="#d45238" fill-opacity="0.62"/><circle cx="67.9" cy="478.2" r="0.60" fill="#d45238" fill-opacity="0.62"/><circle cx="71.7" cy="465.8" r="0.50" fill="#d45238" fill-opacity="0.62"/><circle cx="64.2" cy="507.1" r="0.52" fill="#d45238" fill-opacity="0.62"/><circle cx="87.9" cy="489.7" r="0.85" fill="#d45238" fill-opacity="0.62"/><circle cx="75.0" cy="465.3" r="0.67" fill="#d45238" fill-opacity="0.62"/><circle cx="90.3" cy="491.4" r="0.80" fill="#d45238" fill-opacity="0.62"/><circle cx="70.8" cy="493.5" r="0.61" fill="#d45238" fill-opacity="0.62"/><circle cx="64.0" cy="491.2" r="0.65" fill="#d45238" fill-opacity="0.62"/><circle cx="80.4" cy="491.1" r="0.83" fill="#d45238" fill-opacity="0.62"/><circle cx="76.0" cy="472.8" r="0.46" fill="#d45238" fill-opacity="0.62"/><circle cx="72.7" cy="504.9" r="0.89" fill="#d45238" fill-opacity="0.62"/><circle cx="54.6" cy="490.7" r="0.69" fill="#d45238" fill-opacity="0.62"/><circle cx="85.5" cy="504.8" r="0.73" fill="#d45238" fill-opacity="0.62"/><circle cx="61.4" cy="476.3" r="0.41" fill="#d45238" fill-opacity="0.62"/><circle cx="58.2" cy="496.2" r="0.48" fill="#d45238" fill-opacity="0.62"/><circle cx="87.4" cy="490.7" r="0.56" fill="#d45238" fill-opacity="0.62"/><circle cx="65.5" cy="493.2" r="0.75" fill="#d45238" fill-opacity="0.62"/><circle cx="84.4" cy="500.2" r="0.77" fill="#d45238" fill-opacity="0.62"/><circle cx="55.5" cy="481.6" r="0.91" fill="#d45238" fill-opacity="0.62"/><circle cx="77.0" cy="501.7" r="0.70" fill="#d45238" fill-opacity="0.62"/><circle cx="64.0" cy="484.1" r="0.87" fill="#d45238" fill-opacity="0.62"/><circle cx="83.0" cy="503.3" r="0.47" fill="#d45238" fill-opacity="0.62"/><circle cx="91.2" cy="475.8" r="0.94" fill="#d45238" fill-opacity="0.62"/><circle cx="90.1" cy="503.6" r="0.73" fill="#d45238" fill-opacity="0.62"/><circle cx="98.0" cy="494.8" r="0.88" fill="#d45238" fill-opacity="0.62"/><circle cx="97.7" cy="499.1" r="0.83" fill="#d45238" fill-opacity="0.62"/><circle cx="63.9" cy="477.4" r="0.54" fill="#d45238" fill-opacity="0.62"/><circle cx="92.9" cy="493.7" r="0.88" fill="#d45238" fill-opacity="0.62"/><circle cx="81.8" cy="503.7" r="0.56" fill="#d45238" fill-opacity="0.62"/><circle cx="69.3" cy="466.4" r="0.89" fill="#d45238" fill-opacity="0.62"/><circle cx="74.1" cy="502.8" r="0.40" fill="#d45238" fill-opacity="0.62"/><circle cx="56.3" cy="484.0" r="0.86" fill="#d45238" fill-opacity="0.62"/><circle cx="91.7" cy="494.8" r="0.44" fill="#d45238" fill-opacity="0.62"/><circle cx="57.6" cy="498.3" r="0.56" fill="#d45238" fill-opacity="0.62"/><circle cx="90.8" cy="469.0" r="0.85" fill="#d45238" fill-opacity="0.62"/><circle cx="84.4" cy="509.6" r="0.91" fill="#d45238" fill-opacity="0.62"/><circle cx="80.1" cy="488.0" r="0.40" fill="#d45238" fill-opacity="0.62"/><circle cx="73.3" cy="504.4" r="0.63" fill="#d45238" fill-opacity="0.62"/><circle cx="93.5" cy="498.4" r="0.77" fill="#d45238" fill-opacity="0.62"/><circle cx="66.2" cy="475.7" r="0.70" fill="#d45238" fill-opacity="0.62"/><circle cx="75.5" cy="482.4" r="0.64" fill="#d45238" fill-opacity="0.62"/><circle cx="82.7" cy="493.7" r="0.82" fill="#d45238" fill-opacity="0.62"/><circle cx="71.5" cy="500.3" r="0.55" fill="#d45238" fill-opacity="0.62"/><circle cx="70.8" cy="483.8" r="0.75" fill="#d45238" fill-opacity="0.62"/><circle cx="98.6" cy="497.9" r="0.49" fill="#d45238" fill-opacity="0.62"/><circle cx="79.6" cy="470.7" r="0.63" fill="#d45238" fill-opacity="0.62"/><circle cx="73.0" cy="501.3" r="0.82" fill="#d45238" fill-opacity="0.62"/><circle cx="60.6" cy="485.3" r="0.54" fill="#d45238" fill-opacity="0.62"/><circle cx="70.8" cy="481.1" r="0.67" fill="#d45238" fill-opacity="0.62"/><circle cx="67.6" cy="473.8" r="0.72" fill="#d45238" fill-opacity="0.62"/><circle cx="68.3" cy="483.6" r="0.93" fill="#d45238" fill-opacity="0.62"/><circle cx="69.6" cy="469.6" r="0.93" fill="#d45238" fill-opacity="0.62"/><circle cx="64.7" cy="492.1" r="0.57" fill="#d45238" fill-opacity="0.62"/><circle cx="72.5" cy="499.8" r="0.57" fill="#d45238" fill-opacity="0.62"/><circle cx="81.9" cy="503.9" r="0.56" fill="#d45238" fill-opacity="0.62"/><circle cx="64.7" cy="502.1" r="0.57" fill="#d45238" fill-opacity="0.62"/><circle cx="91.5" cy="472.0" r="0.58" fill="#d45238" fill-opacity="0.62"/><circle cx="82.7" cy="479.4" r="0.45" fill="#d45238" fill-opacity="0.62"/><circle cx="82.0" cy="487.9" r="0.40" fill="#d45238" fill-opacity="0.62"/><circle cx="78.5" cy="487.1" r="0.76" fill="#d45238" fill-opacity="0.62"/><circle cx="67.2" cy="484.2" r="0.54" fill="#d45238" fill-opacity="0.62"/><circle cx="92.2" cy="485.0" r="0.53" fill="#d45238" fill-opacity="0.62"/><circle cx="58.8" cy="495.3" r="0.56" fill="#d45238" fill-opacity="0.62"/><circle cx="95.5" cy="499.1" r="0.45" fill="#d45238" fill-opacity="0.62"/><circle cx="79.2" cy="488.6" r="0.95" fill="#d45238" fill-opacity="0.62"/><circle cx="59.1" cy="496.1" r="0.71" fill="#d45238" fill-opacity="0.62"/><circle cx="91.4" cy="485.8" r="0.59" fill="#d45238" fill-opacity="0.62"/><circle cx="77.5" cy="487.5" r="0.60" fill="#d45238" fill-opacity="0.62"/><circle cx="78.7" cy="470.2" r="0.67" fill="#d45238" fill-opacity="0.62"/><circle cx="92.0" cy="482.0" r="0.80" fill="#d45238" fill-opacity="0.62"/><circle cx="72.3" cy="492.3" r="0.61" fill="#d45238" fill-opacity="0.62"/><circle cx="78.7" cy="491.8" r="0.56" fill="#d45238" fill-opacity="0.62"/><circle cx="88.9" cy="499.4" r="0.81" fill="#d45238" fill-opacity="0.62"/><circle cx="78.8" cy="465.8" r="0.57" fill="#d45238" fill-opacity="0.62"/><circle cx="66.9" cy="468.5" r="0.62" fill="#d45238" fill-opacity="0.62"/><circle cx="84.2" cy="484.1" r="0.91" fill="#d45238" fill-opacity="0.62"/><circle cx="94.9" cy="472.1" r="0.86" fill="#d45238" fill-opacity="0.62"/><circle cx="73.9" cy="472.9" r="0.79" fill="#d45238" fill-opacity="0.62"/><circle cx="90.7" cy="475.6" r="0.74" fill="#d45238" fill-opacity="0.62"/><circle cx="88.9" cy="482.2" r="0.58" fill="#d45238" fill-opacity="0.62"/><circle cx="99.3" cy="492.9" r="0.75" fill="#d45238" fill-opacity="0.62"/><circle cx="72.3" cy="477.8" r="0.50" fill="#d45238" fill-opacity="0.62"/><circle cx="55.8" cy="491.0" r="0.60" fill="#d45238" fill-opacity="0.62"/><circle cx="64.2" cy="495.2" r="0.86" fill="#d45238" fill-opacity="0.62"/><circle cx="93.3" cy="503.4" r="0.41" fill="#d45238" fill-opacity="0.62"/><circle cx="71.2" cy="468.4" r="0.66" fill="#d45238" fill-opacity="0.62"/><circle cx="77.1" cy="475.5" r="0.48" fill="#d45238" fill-opacity="0.62"/><circle cx="70.0" cy="497.4" r="0.79" fill="#d45238" fill-opacity="0.62"/><circle cx="60.0" cy="480.5" r="0.94" fill="#d45238" fill-opacity="0.62"/><circle cx="80.8" cy="467.2" r="0.93" fill="#d45238" fill-opacity="0.62"/><circle cx="96.0" cy="479.2" r="0.59" fill="#d45238" fill-opacity="0.62"/><circle cx="57.2" cy="486.9" r="0.83" fill="#d45238" fill-opacity="0.62"/><circle cx="94.2" cy="476.0" r="0.77" fill="#d45238" fill-opacity="0.62"/><circle cx="77.2" cy="506.6" r="0.50" fill="#d45238" fill-opacity="0.62"/><circle cx="71.7" cy="480.1" r="0.41" fill="#d45238" fill-opacity="0.62"/><circle cx="98.9" cy="481.9" r="0.57" fill="#d45238" fill-opacity="0.62"/><circle cx="98.2" cy="494.0" r="0.82" fill="#d45238" fill-opacity="0.62"/><circle cx="89.7" cy="505.6" r="0.86" fill="#d45238" fill-opacity="0.62"/><circle cx="66.7" cy="482.4" r="0.43" fill="#d45238" fill-opacity="0.62"/><circle cx="92.2" cy="494.1" r="0.80" fill="#d45238" fill-opacity="0.62"/><circle cx="70.5" cy="479.5" r="0.84" fill="#d45238" fill-opacity="0.62"/><circle cx="94.8" cy="495.1" r="0.50" fill="#d45238" fill-opacity="0.62"/><circle cx="88.1" cy="488.4" r="0.84" fill="#d45238" fill-opacity="0.62"/><circle cx="78.2" cy="490.7" r="0.67" fill="#d45238" fill-opacity="0.62"/><circle cx="67.3" cy="502.5" r="0.72" fill="#d45238" fill-opacity="0.62"/><circle cx="71.8" cy="466.2" r="0.59" fill="#d45238" fill-opacity="0.62"/><circle cx="72.3" cy="481.9" r="0.54" fill="#d45238" fill-opacity="0.62"/><circle cx="95.7" cy="500.5" r="0.59" fill="#d45238" fill-opacity="0.62"/><circle cx="72.3" cy="466.6" r="0.61" fill="#d45238" fill-opacity="0.62"/><circle cx="80.8" cy="499.3" r="0.67" fill="#d45238" fill-opacity="0.62"/><circle cx="72.9" cy="492.1" r="0.87" fill="#d45238" fill-opacity="0.62"/><circle cx="63.6" cy="471.1" r="0.86" fill="#d45238" fill-opacity="0.62"/><circle cx="74.4" cy="466.8" r="0.79" fill="#d45238" fill-opacity="0.62"/><circle cx="58.5" cy="497.3" r="0.90" fill="#d45238" fill-opacity="0.62"/><circle cx="84.7" cy="493.6" r="0.49" fill="#d45238" fill-opacity="0.62"/><circle cx="56.6" cy="494.0" r="0.69" fill="#d45238" fill-opacity="0.62"/><circle cx="86.5" cy="476.7" r="0.71" fill="#d45238" fill-opacity="0.62"/><circle cx="78.1" cy="506.9" r="0.55" fill="#d45238" fill-opacity="0.62"/><circle cx="92.6" cy="488.7" r="0.71" fill="#d45238" fill-opacity="0.62"/><circle cx="87.0" cy="479.4" r="0.91" fill="#d45238" fill-opacity="0.62"/><circle cx="81.2" cy="479.3" r="0.83" fill="#d45238" fill-opacity="0.62"/><circle cx="99.0" cy="478.9" r="0.78" fill="#d45238" fill-opacity="0.62"/><circle cx="64.3" cy="499.1" r="0.76" fill="#d45238" fill-opacity="0.62"/><circle cx="69.9" cy="481.3" r="0.89" fill="#d45238" fill-opacity="0.62"/><circle cx="71.6" cy="486.4" r="0.57" fill="#d45238" fill-opacity="0.62"/><circle cx="91.7" cy="495.8" r="0.45" fill="#d45238" fill-opacity="0.62"/><circle cx="65.4" cy="485.7" r="0.85" fill="#d45238" fill-opacity="0.62"/><circle cx="78.9" cy="477.8" r="0.85" fill="#d45238" fill-opacity="0.62"/><circle cx="67.0" cy="482.0" r="0.90" fill="#d45238" fill-opacity="0.62"/><circle cx="92.6" cy="488.6" r="0.73" fill="#d45238" fill-opacity="0.62"/><circle cx="86.3" cy="502.1" r="0.89" fill="#d45238" fill-opacity="0.62"/><circle cx="66.7" cy="504.5" r="0.50" fill="#d45238" fill-opacity="0.62"/><circle cx="100.6" cy="484.4" r="0.49" fill="#d45238" fill-opacity="0.62"/><circle cx="78.9" cy="474.4" r="0.42" fill="#d45238" fill-opacity="0.62"/><circle cx="82.6" cy="507.6" r="0.66" fill="#d45238" fill-opacity="0.62"/><circle cx="69.4" cy="486.4" r="0.49" fill="#d45238" fill-opacity="0.62"/><circle cx="66.5" cy="500.7" r="0.85" fill="#d45238" fill-opacity="0.62"/><circle cx="64.9" cy="492.2" r="0.90" fill="#d45238" fill-opacity="0.62"/><circle cx="70.2" cy="468.9" r="0.84" fill="#d45238" fill-opacity="0.62"/><circle cx="65.7" cy="489.2" r="0.46" fill="#d45238" fill-opacity="0.62"/><circle cx="66.5" cy="470.9" r="0.90" fill="#d45238" fill-opacity="0.62"/><circle cx="92.4" cy="479.9" r="0.67" fill="#d45238" fill-opacity="0.62"/><circle cx="84.4" cy="486.5" r="0.61" fill="#d45238" fill-opacity="0.62"/><circle cx="60.1" cy="482.8" r="0.74" fill="#d45238" fill-opacity="0.62"/><circle cx="86.9" cy="502.1" r="0.50" fill="#d45238" fill-opacity="0.62"/><circle cx="70.2" cy="494.7" r="0.58" fill="#d45238" fill-opacity="0.62"/><circle cx="67.3" cy="477.3" r="0.49" fill="#d45238" fill-opacity="0.62"/><circle cx="58.7" cy="491.8" r="0.57" fill="#d45238" fill-opacity="0.62"/><circle cx="75.6" cy="503.4" r="0.78" fill="#d45238" fill-opacity="0.62"/><circle cx="96.6" cy="492.4" r="0.43" fill="#d45238" fill-opacity="0.62"/><circle cx="85.7" cy="481.4" r="0.85" fill="#d45238" fill-opacity="0.62"/><circle cx="93.9" cy="491.5" r="0.54" fill="#d45238" fill-opacity="0.62"/><circle cx="81.1" cy="467.5" r="0.47" fill="#d45238" fill-opacity="0.62"/><circle cx="96.8" cy="494.4" r="0.63" fill="#d45238" fill-opacity="0.62"/><circle cx="68.0" cy="498.0" r="0.60" fill="#d45238" fill-opacity="0.62"/><circle cx="64.7" cy="481.2" r="0.47" fill="#d45238" fill-opacity="0.62"/><circle cx="54.6" cy="492.2" r="0.82" fill="#d45238" fill-opacity="0.62"/><circle cx="73.2" cy="465.7" r="0.64" fill="#d45238" fill-opacity="0.62"/><circle cx="64.1" cy="504.0" r="0.46" fill="#d45238" fill-opacity="0.62"/><circle cx="78.6" cy="479.0" r="0.74" fill="#d45238" fill-opacity="0.62"/><circle cx="57.0" cy="486.2" r="0.43" fill="#d45238" fill-opacity="0.62"/><circle cx="67.5" cy="469.1" r="0.42" fill="#d45238" fill-opacity="0.62"/><circle cx="72.6" cy="476.6" r="0.81" fill="#d45238" fill-opacity="0.62"/><circle cx="78.9" cy="487.8" r="0.62" fill="#d45238" fill-opacity="0.62"/><circle cx="54.3" cy="488.1" r="0.91" fill="#d45238" fill-opacity="0.62"/><circle cx="86.3" cy="489.6" r="0.62" fill="#d45238" fill-opacity="0.62"/><circle cx="84.7" cy="468.2" r="0.71" fill="#d45238" fill-opacity="0.62"/><circle cx="96.5" cy="477.9" r="0.88" fill="#d45238" fill-opacity="0.62"/><circle cx="69.7" cy="479.0" r="0.80" fill="#d45238" fill-opacity="0.62"/><circle cx="72.9" cy="465.8" r="0.49" fill="#d45238" fill-opacity="0.62"/><circle cx="91.4" cy="489.9" r="0.54" fill="#d45238" fill-opacity="0.62"/><circle cx="73.3" cy="491.8" r="0.74" fill="#d45238" fill-opacity="0.62"/><circle cx="66.8" cy="493.4" r="0.46" fill="#d45238" fill-opacity="0.62"/><circle cx="71.0" cy="484.7" r="0.87" fill="#d45238" fill-opacity="0.62"/><circle cx="73.9" cy="510.1" r="0.47" fill="#d45238" fill-opacity="0.62"/><circle cx="61.7" cy="501.3" r="0.69" fill="#d45238" fill-opacity="0.62"/><circle cx="56.7" cy="495.1" r="0.49" fill="#d45238" fill-opacity="0.62"/><circle cx="87.8" cy="474.4" r="0.56" fill="#d45238" fill-opacity="0.62"/><circle cx="70.4" cy="498.1" r="0.75" fill="#d45238" fill-opacity="0.62"/><circle cx="61.9" cy="494.2" r="0.76" fill="#d45238" fill-opacity="0.62"/><circle cx="90.2" cy="472.8" r="0.56" fill="#d45238" fill-opacity="0.62"/><circle cx="67.8" cy="471.0" r="0.90" fill="#d45238" fill-opacity="0.62"/><circle cx="64.7" cy="499.3" r="0.82" fill="#d45238" fill-opacity="0.62"/><circle cx="70.9" cy="499.6" r="0.74" fill="#d45238" fill-opacity="0.62"/><circle cx="62.5" cy="503.5" r="0.59" fill="#d45238" fill-opacity="0.62"/><circle cx="81.1" cy="506.1" r="0.73" fill="#d45238" fill-opacity="0.62"/><circle cx="100.6" cy="486.6" r="0.63" fill="#d45238" fill-opacity="0.62"/><circle cx="59.6" cy="494.0" r="0.68" fill="#d45238" fill-opacity="0.62"/><circle cx="64.9" cy="480.2" r="0.87" fill="#d45238" fill-opacity="0.62"/><circle cx="94.1" cy="474.8" r="0.81" fill="#d45238" fill-opacity="0.62"/><circle cx="86.8" cy="480.3" r="0.92" fill="#d45238" fill-opacity="0.62"/><circle cx="79.9" cy="495.2" r="0.67" fill="#d45238" fill-opacity="0.62"/><circle cx="84.2" cy="498.0" r="0.73" fill="#d45238" fill-opacity="0.62"/><circle cx="86.6" cy="500.0" r="0.60" fill="#d45238" fill-opacity="0.62"/><circle cx="83.9" cy="485.7" r="0.68" fill="#d45238" fill-opacity="0.62"/><circle cx="68.4" cy="489.9" r="0.59" fill="#d45238" fill-opacity="0.62"/><circle cx="68.5" cy="498.7" r="0.71" fill="#d45238" fill-opacity="0.62"/><circle cx="62.6" cy="482.4" r="0.64" fill="#d45238" fill-opacity="0.62"/><circle cx="65.0" cy="477.6" r="0.47" fill="#d45238" fill-opacity="0.62"/><circle cx="69.3" cy="475.4" r="0.87" fill="#d45238" fill-opacity="0.62"/><circle cx="89.5" cy="500.9" r="0.56" fill="#d45238" fill-opacity="0.62"/><circle cx="63.3" cy="472.2" r="0.76" fill="#d45238" fill-opacity="0.62"/><circle cx="57.2" cy="478.1" r="0.52" fill="#d45238" fill-opacity="0.62"/><circle cx="93.3" cy="487.6" r="0.75" fill="#d45238" fill-opacity="0.62"/><circle cx="80.5" cy="491.0" r="0.49" fill="#d45238" fill-opacity="0.62"/><circle cx="66.5" cy="484.9" r="0.84" fill="#d45238" fill-opacity="0.62"/><circle cx="88.5" cy="503.9" r="0.90" fill="#d45238" fill-opacity="0.62"/><circle cx="69.7" cy="466.8" r="0.85" fill="#d45238" fill-opacity="0.62"/><circle cx="80.7" cy="484.3" r="0.68" fill="#d45238" fill-opacity="0.62"/><circle cx="72.9" cy="502.9" r="0.80" fill="#d45238" fill-opacity="0.62"/><circle cx="76.4" cy="477.4" r="0.49" fill="#d45238" fill-opacity="0.62"/><circle cx="96.1" cy="496.6" r="0.85" fill="#d45238" fill-opacity="0.62"/><circle cx="85.0" cy="492.8" r="0.48" fill="#d45238" fill-opacity="0.62"/><circle cx="84.0" cy="487.6" r="0.72" fill="#d45238" fill-opacity="0.62"/><circle cx="84.7" cy="481.2" r="0.78" fill="#d45238" fill-opacity="0.62"/><circle cx="67.6" cy="504.0" r="0.66" fill="#d45238" fill-opacity="0.62"/><circle cx="90.9" cy="506.0" r="0.68" fill="#d45238" fill-opacity="0.62"/><circle cx="95.8" cy="485.9" r="0.93" fill="#d45238" fill-opacity="0.62"/><circle cx="74.5" cy="483.3" r="0.40" fill="#d45238" fill-opacity="0.62"/><circle cx="96.9" cy="487.0" r="0.84" fill="#d45238" fill-opacity="0.62"/><circle cx="85.2" cy="475.9" r="0.79" fill="#d45238" fill-opacity="0.62"/><circle cx="74.2" cy="483.4" r="0.70" fill="#d45238" fill-opacity="0.62"/><circle cx="93.6" cy="480.5" r="0.83" fill="#d45238" fill-opacity="0.62"/><circle cx="91.6" cy="494.2" r="0.68" fill="#d45238" fill-opacity="0.62"/><circle cx="57.3" cy="480.6" r="0.67" fill="#d45238" fill-opacity="0.62"/><circle cx="62.2" cy="481.1" r="0.77" fill="#d45238" fill-opacity="0.62"/><circle cx="64.7" cy="480.9" r="0.56" fill="#d45238" fill-opacity="0.62"/><circle cx="86.9" cy="477.4" r="0.79" fill="#d45238" fill-opacity="0.62"/><circle cx="74.5" cy="511.3" r="0.52" fill="#d45238" fill-opacity="0.62"/><circle cx="65.1" cy="494.9" r="0.88" fill="#d45238" fill-opacity="0.62"/><circle cx="76.3" cy="476.0" r="0.53" fill="#d45238" fill-opacity="0.62"/><circle cx="77.0" cy="472.2" r="0.50" fill="#d45238" fill-opacity="0.62"/><circle cx="92.6" cy="501.4" r="0.76" fill="#d45238" fill-opacity="0.62"/><circle cx="80.0" cy="481.9" r="0.66" fill="#d45238" fill-opacity="0.62"/></g><text x="41.70" y="327.70" font-size="12.9" text-anchor="end" font-weight="normal" fill="#000">Mock</text><text x="41.70" y="382.50" font-size="12.9" text-anchor="end" font-weight="normal" fill="#000">ΔEM</text><text x="41.70" y="429.80" font-size="12.9" text-anchor="end" font-weight="normal" fill="#000">mRNA</text><text x="41.70" y="445.40" font-size="12.9" text-anchor="end" font-weight="normal" fill="#000">0.1 μg</text><text x="41.70" y="485.00" font-size="12.9" text-anchor="end" font-weight="normal" fill="#000">mRNA</text><text x="41.70" y="500.50" font-size="12.9" text-anchor="end" font-weight="normal" fill="#000">1 μg</text><line x1="164.50" y1="326.95" x2="164.50" y2="478.15" stroke="#000" stroke-width="1.5" stroke-linecap="butt"/><line x1="158.00" y1="327.70" x2="164.50" y2="327.70" stroke="#000" stroke-width="1.5" stroke-linecap="butt"/><text x="156.00" y="332.00" font-size="12" text-anchor="end" font-weight="normal" fill="#000">600</text><line x1="158.00" y1="377.60" x2="164.50" y2="377.60" stroke="#000" stroke-width="1.5" stroke-linecap="butt"/><text x="156.00" y="381.90" font-size="12" text-anchor="end" font-weight="normal" fill="#000">400</text><line x1="158.00" y1="427.90" x2="164.50" y2="427.90" stroke="#000" stroke-width="1.5" stroke-linecap="butt"/><text x="156.00" y="432.20" font-size="12" text-anchor="end" font-weight="normal" fill="#000">200</text><line x1="158.00" y1="477.40" x2="164.50" y2="477.40" stroke="#000" stroke-width="1.5" stroke-linecap="butt"/><text x="156.00" y="481.70" font-size="12" text-anchor="end" font-weight="normal" fill="#000">0</text><line x1="163.75" y1="477.40" x2="315.00" y2="477.40" stroke="#000" stroke-width="1.5" stroke-linecap="butt"/><text transform="translate(125 447.5) rotate(-90)" font-size="11.9">Spots/2x10<tspan font-size="8.2" dy="-4.2">5</tspan><tspan dy="4.2"> cells</tspan></text><line x1="186.90" y1="477.40" x2="186.90" y2="483.10" stroke="#000" stroke-width="1.5" stroke-linecap="butt"/><line x1="222.00" y1="477.40" x2="222.00" y2="483.10" stroke="#000" stroke-width="1.5" stroke-linecap="butt"/><line x1="256.60" y1="477.40" x2="256.60" y2="483.10" stroke="#000" stroke-width="1.5" stroke-linecap="butt"/><line x1="291.10" y1="477.40" x2="291.10" y2="483.10" stroke="#000" stroke-width="1.5" stroke-linecap="butt"/><line x1="186.90" y1="474.80" x2="186.90" y2="475.70" stroke="#000" stroke-width="1.5" stroke-linecap="butt"/><line x1="181.90" y1="474.80" x2="191.90" y2="474.80" stroke="#000" stroke-width="1.5" stroke-linecap="butt"/><rect x="176.15" y="475.70" width="21.50" height="1.70" fill="#fff" stroke="#000" stroke-width="1.5"/><line x1="222.00" y1="354.80" x2="222.00" y2="379.30" stroke="#000" stroke-width="1.5" stroke-linecap="butt"/><line x1="216.50" y1="354.80" x2="227.50" y2="354.80" stroke="#000" stroke-width="1.5" stroke-linecap="butt"/><line x1="222.00" y1="467.80" x2="222.00" y2="475.10" stroke="#000" stroke-width="1.5" stroke-linecap="butt"/><line x1="216.50" y1="475.10" x2="227.50" y2="475.10" stroke="#000" stroke-width="1.5" stroke-linecap="butt"/><rect x="211.25" y="379.30" width="21.50" height="88.50" fill="#c2c2ff" stroke="#000" stroke-width="1.5"/><line x1="211.25" y1="432.10" x2="232.75" y2="432.10" stroke="#000" stroke-width="1.5" stroke-linecap="butt"/><line x1="256.60" y1="455.20" x2="256.60" y2="461.00" stroke="#000" stroke-width="1.5" stroke-linecap="butt"/><line x1="251.10" y1="455.20" x2="262.10" y2="455.20" stroke="#000" stroke-width="1.5" stroke-linecap="butt"/><line x1="256.60" y1="473.20" x2="256.60" y2="475.50" stroke="#000" stroke-width="1.5" stroke-linecap="butt"/><line x1="251.10" y1="475.50" x2="262.10" y2="475.50" stroke="#000" stroke-width="1.5" stroke-linecap="butt"/><rect x="245.85" y="461.00" width="21.50" height="12.20" fill="#e9c9f5" stroke="#000" stroke-width="1.5"/><line x1="245.85" y1="472.60" x2="267.35" y2="472.60" stroke="#000" stroke-width="1.5" stroke-linecap="butt"/><line x1="291.10" y1="349.30" x2="291.10" y2="379.30" stroke="#000" stroke-width="1.5" stroke-linecap="butt"/><line x1="285.60" y1="349.30" x2="296.60" y2="349.30" stroke="#000" stroke-width="1.5" stroke-linecap="butt"/><line x1="291.10" y1="456.20" x2="291.10" y2="470.00" stroke="#000" stroke-width="1.5" stroke-linecap="butt"/><line x1="285.60" y1="470.00" x2="296.60" y2="470.00" stroke="#000" stroke-width="1.5" stroke-linecap="butt"/><rect x="280.35" y="379.30" width="21.50" height="76.90" fill="#ffc4e0" stroke="#000" stroke-width="1.5"/><line x1="280.35" y1="407.10" x2="301.85" y2="407.10" stroke="#000" stroke-width="1.5" stroke-linecap="butt"/><polyline points="187.60,470.00 187.60,343.10 219.50,343.10 219.50,350.30" fill="none" stroke="#000" stroke-width="1.4" stroke-linejoin="miter"/><polyline points="225.00,350.30 225.00,343.10 256.60,343.10 256.60,448.80" fill="none" stroke="#000" stroke-width="1.4" stroke-linejoin="miter"/><polyline points="222.00,322.70 222.00,314.50 291.40,314.50 291.40,341.10" fill="none" stroke="#000" stroke-width="1.4" stroke-linejoin="miter"/><path d="M203.50 331.55L203.50 336.85M201.21 332.88L205.79 335.52M205.79 332.88L201.21 335.52" stroke="#000" stroke-width="1.6" fill="none" stroke-linecap="round"/><path d="M240.90 331.55L240.90 336.85M238.61 332.88L243.19 335.52M243.19 332.88L238.61 335.52" stroke="#000" stroke-width="1.6" fill="none" stroke-linecap="round"/><text x="256.60" y="308.80" font-size="10.4" text-anchor="middle" font-weight="normal" fill="#000">ns</text><text x="192.10" y="495.20" font-size="12.3" text-anchor="end" font-weight="normal" fill="#000" transform="rotate(-45 192.10 495.20)">Mock</text><text x="227.20" y="495.20" font-size="12.3" text-anchor="end" font-weight="normal" fill="#000" transform="rotate(-45 227.20 495.20)">ΔEM</text><text x="261.80" y="495.20" font-size="12.3" text-anchor="end" font-weight="normal" fill="#000" transform="rotate(-45 261.80 495.20)">mRNA 0.1 μg</text><text x="296.30" y="495.20" font-size="12.3" text-anchor="end" font-weight="normal" fill="#000" transform="rotate(-45 296.30 495.20)">mRNA 1 μg</text><line x1="383.70" y1="262.30" x2="645.30" y2="262.30" stroke="#6a6a6a" stroke-width="1.1" stroke-linecap="butt"/><text x="514.60" y="254.00" font-size="13.8" text-anchor="middle" font-weight="normal" fill="#000">N protein</text><circle cx="436" cy="323.6" r="24.6" fill="#f5e9cb" filter="url(#bl)"/><g filter="url(#bl)"><circle cx="419.1" cy="328.8" r="0.67" fill="#d89070" fill-opacity="0.5"/><circle cx="419.6" cy="327.2" r="0.53" fill="#d89070" fill-opacity="0.5"/><circle cx="442.7" cy="339.1" r="0.55" fill="#d89070" fill-opacity="0.5"/><circle cx="437.9" cy="316.6" r="0.42" fill="#d89070" fill-opacity="0.5"/><circle cx="453.9" cy="335.1" r="0.58" fill="#d89070" fill-opacity="0.5"/><circle cx="458.6" cy="329.7" r="0.69" fill="#d89070" fill-opacity="0.5"/><circle cx="425.5" cy="308.3" r="0.36" fill="#d89070" fill-opacity="0.5"/><circle cx="453.1" cy="325.2" r="0.32" fill="#d89070" fill-opacity="0.5"/></g><circle cx="436" cy="378.3" r="24.6" fill="#f5eAd5" filter="url(#bl)"/><g filter="url(#bl)"><circle cx="415.7" cy="381.6" r="0.62" fill="#cc4030" fill-opacity="0.75"/><circle cx="439.4" cy="382.5" r="0.50" fill="#cc4030" fill-opacity="0.75"/><circle cx="432.7" cy="400.1" r="0.63" fill="#cc4030" fill-opacity="0.75"/><circle cx="420.3" cy="366.7" r="0.61" fill="#cc4030" fill-opacity="0.75"/><circle cx="447.1" cy="392.6" r="0.41" fill="#cc4030" fill-opacity="0.75"/><circle cx="443.8" cy="373.1" r="0.68" fill="#cc4030" fill-opacity="0.75"/><circle cx="454.6" cy="387.7" r="0.48" fill="#cc4030" fill-opacity="0.75"/><circle cx="417.6" cy="390.9" r="0.36" fill="#cc4030" fill-opacity="0.75"/><circle cx="457.3" cy="386.9" r="0.55" fill="#cc4030" fill-opacity="0.75"/><circle cx="455.8" cy="391.0" r="0.73" fill="#cc4030" fill-opacity="0.75"/><circle cx="449.6" cy="389.9" r="0.40" fill="#cc4030" fill-opacity="0.75"/><circle cx="428.3" cy="397.0" r="0.42" fill="#cc4030" fill-opacity="0.75"/><circle cx="433.0" cy="369.8" r="0.42" fill="#cc4030" fill-opacity="0.75"/><circle cx="443.0" cy="362.2" r="0.52" fill="#cc4030" fill-opacity="0.75"/><circle cx="420.7" cy="367.8" r="0.50" fill="#cc4030" fill-opacity="0.75"/><circle cx="456.9" cy="382.4" r="0.74" fill="#cc4030" fill-opacity="0.75"/><circle cx="456.4" cy="375.2" r="0.49" fill="#cc4030" fill-opacity="0.75"/><circle cx="422.3" cy="394.2" r="0.62" fill="#cc4030" fill-opacity="0.75"/><circle cx="447.1" cy="388.0" r="0.50" fill="#cc4030" fill-opacity="0.75"/><circle cx="414.0" cy="376.7" r="0.55" fill="#cc4030" fill-opacity="0.75"/><circle cx="457.8" cy="382.2" r="0.52" fill="#cc4030" fill-opacity="0.75"/><circle cx="421.6" cy="376.6" r="0.52" fill="#cc4030" fill-opacity="0.75"/><circle cx="419.4" cy="392.3" r="0.39" fill="#cc4030" fill-opacity="0.75"/><circle cx="423.2" cy="374.1" r="0.63" fill="#cc4030" fill-opacity="0.75"/><circle cx="451.1" cy="381.9" r="0.49" fill="#cc4030" fill-opacity="0.75"/><circle cx="430.1" cy="371.4" r="0.53" fill="#cc4030" fill-opacity="0.75"/><circle cx="440.0" cy="393.4" r="0.54" fill="#cc4030" fill-opacity="0.75"/><circle cx="454.0" cy="373.5" r="0.73" fill="#cc4030" fill-opacity="0.75"/><circle cx="447.4" cy="398.3" r="0.50" fill="#cc4030" fill-opacity="0.75"/><circle cx="444.0" cy="398.2" r="0.71" fill="#cc4030" fill-opacity="0.75"/><circle cx="451.4" cy="378.9" r="0.66" fill="#cc4030" fill-opacity="0.75"/><circle cx="427.9" cy="390.8" r="0.35" fill="#cc4030" fill-opacity="0.75"/><circle cx="455.6" cy="383.3" r="0.74" fill="#cc4030" fill-opacity="0.75"/><circle cx="454.9" cy="378.1" r="0.36" fill="#cc4030" fill-opacity="0.75"/><circle cx="426.4" cy="397.9" r="0.68" fill="#cc4030" fill-opacity="0.75"/><circle cx="426.6" cy="367.1" r="0.56" fill="#cc4030" fill-opacity="0.75"/><circle cx="415.9" cy="381.2" r="0.46" fill="#cc4030" fill-opacity="0.75"/><circle cx="457.5" cy="370.8" r="0.41" fill="#cc4030" fill-opacity="0.75"/><circle cx="430.2" cy="400.1" r="0.46" fill="#cc4030" fill-opacity="0.75"/><circle cx="453.9" cy="371.7" r="0.63" fill="#cc4030" fill-opacity="0.75"/><circle cx="432.0" cy="364.6" r="0.46" fill="#cc4030" fill-opacity="0.75"/><circle cx="435.4" cy="399.2" r="0.63" fill="#cc4030" fill-opacity="0.75"/><circle cx="451.4" cy="395.0" r="0.52" fill="#cc4030" fill-opacity="0.75"/><circle cx="437.0" cy="396.3" r="0.74" fill="#cc4030" fill-opacity="0.75"/><circle cx="417.2" cy="370.8" r="0.72" fill="#cc4030" fill-opacity="0.75"/></g><circle cx="436" cy="433.4" r="24.6" fill="#f6efc6" filter="url(#bl)"/><g filter="url(#bl)"></g><circle cx="436" cy="488.6" r="24.6" fill="#f6eed6" filter="url(#bl)"/><g filter="url(#bl)"><circle cx="451.5" cy="500.9" r="0.50" fill="#d0a080" fill-opacity="0.5"/><circle cx="447.4" cy="484.1" r="0.38" fill="#d0a080" fill-opacity="0.5"/><circle cx="434.1" cy="469.5" r="0.39" fill="#d0a080" fill-opacity="0.5"/></g><text x="398.00" y="327.70" font-size="12.9" text-anchor="end" font-weight="normal" fill="#000">Mock</text><text x="398.00" y="382.50" font-size="12.9" text-anchor="end" font-weight="normal" fill="#000">ΔEM</text><text x="398.00" y="429.80" font-size="12.9" text-anchor="end" font-weight="normal" fill="#000">mRNA</text><text x="398.00" y="445.40" font-size="12.9" text-anchor="end" font-weight="normal" fill="#000">0.1 μg</text><text x="398.00" y="485.00" font-size="12.9" text-anchor="end" font-weight="normal" fill="#000">mRNA</text><text x="398.00" y="500.50" font-size="12.9" text-anchor="end" font-weight="normal" fill="#000">1 μg</text><line x1="517.00" y1="326.45" x2="517.00" y2="477.55" stroke="#000" stroke-width="1.5" stroke-linecap="butt"/><line x1="510.50" y1="327.20" x2="517.00" y2="327.20" stroke="#000" stroke-width="1.5" stroke-linecap="butt"/><text x="508.50" y="331.50" font-size="12" text-anchor="end" font-weight="normal" fill="#000">80</text><line x1="510.50" y1="364.80" x2="517.00" y2="364.80" stroke="#000" stroke-width="1.5" stroke-linecap="butt"/><text x="508.50" y="369.10" font-size="12" text-anchor="end" font-weight="normal" fill="#000">60</text><line x1="510.50" y1="402.00" x2="517.00" y2="402.00" stroke="#000" stroke-width="1.5" stroke-linecap="butt"/><text x="508.50" y="406.30" font-size="12" text-anchor="end" font-weight="normal" fill="#000">40</text><line x1="510.50" y1="439.40" x2="517.00" y2="439.40" stroke="#000" stroke-width="1.5" stroke-linecap="butt"/><text x="508.50" y="443.70" font-size="12" text-anchor="end" font-weight="normal" fill="#000">20</text><line x1="510.50" y1="476.80" x2="517.00" y2="476.80" stroke="#000" stroke-width="1.5" stroke-linecap="butt"/><text x="508.50" y="481.10" font-size="12" text-anchor="end" font-weight="normal" fill="#000">0</text><line x1="516.25" y1="476.80" x2="667.00" y2="476.80" stroke="#000" stroke-width="1.5" stroke-linecap="butt"/><text transform="translate(484.9 447.2) rotate(-90)" font-size="11.9">Spots/4x10<tspan font-size="8.2" dy="-4.2">5</tspan><tspan dy="4.2"> cells</tspan></text><line x1="539.20" y1="476.80" x2="539.20" y2="482.50" stroke="#000" stroke-width="1.5" stroke-linecap="butt"/><line x1="574.20" y1="476.80" x2="574.20" y2="482.50" stroke="#000" stroke-width="1.5" stroke-linecap="butt"/><line x1="608.40" y1="476.80" x2="608.40" y2="482.50" stroke="#000" stroke-width="1.5" stroke-linecap="butt"/><line x1="643.00" y1="476.80" x2="643.00" y2="482.50" stroke="#000" stroke-width="1.5" stroke-linecap="butt"/><line x1="539.20" y1="452.50" x2="539.20" y2="469.30" stroke="#000" stroke-width="1.5" stroke-linecap="butt"/><line x1="533.70" y1="452.50" x2="544.70" y2="452.50" stroke="#000" stroke-width="1.5" stroke-linecap="butt"/><rect x="528.20" y="469.30" width="22.00" height="5.60" fill="#fff" stroke="#000" stroke-width="1.5"/><line x1="528.20" y1="474.00" x2="550.20" y2="474.00" stroke="#000" stroke-width="1.5" stroke-linecap="butt"/><line x1="574.20" y1="337.40" x2="574.20" y2="340.90" stroke="#000" stroke-width="1.5" stroke-linecap="butt"/><line x1="568.70" y1="337.40" x2="579.70" y2="337.40" stroke="#000" stroke-width="1.5" stroke-linecap="butt"/><line x1="574.20" y1="410.90" x2="574.20" y2="421.90" stroke="#000" stroke-width="1.5" stroke-linecap="butt"/><line x1="568.70" y1="421.90" x2="579.70" y2="421.90" stroke="#000" stroke-width="1.5" stroke-linecap="butt"/><rect x="563.20" y="340.90" width="22.00" height="70.00" fill="#c2c2ff" stroke="#000" stroke-width="1.5"/><line x1="563.20" y1="372.60" x2="585.20" y2="372.60" stroke="#000" stroke-width="1.5" stroke-linecap="butt"/><line x1="608.40" y1="455.30" x2="608.40" y2="469.30" stroke="#000" stroke-width="1.5" stroke-linecap="butt"/><line x1="602.90" y1="455.30" x2="613.90" y2="455.30" stroke="#000" stroke-width="1.5" stroke-linecap="butt"/><rect x="597.40" y="469.30" width="22.00" height="5.60" fill="#e9c9f5" stroke="#000" stroke-width="1.5"/><rect x="632.00" y="474.00" width="22.00" height="2.00" fill="#000" stroke="#000" stroke-width="1.5"/><polyline points="539.50,443.40 539.50,319.80 571.60,319.80 571.60,329.30" fill="none" stroke="#000" stroke-width="1.4" stroke-linejoin="miter"/><polyline points="576.60,329.30 576.60,320.00 643.00,320.00 643.00,465.00" fill="none" stroke="#000" stroke-width="1.4" stroke-linejoin="miter"/><polyline points="573.80,301.50 573.80,292.80 608.50,292.80 608.50,301.50" fill="none" stroke="#000" stroke-width="1.4" stroke-linejoin="miter"/><path d="M540.65 308.35L540.65 313.65M538.36 309.68L542.94 312.32M542.94 309.68L538.36 312.32" stroke="#000" stroke-width="1.6" fill="none" stroke-linecap="round"/><path d="M549.95 308.35L549.95 313.65M547.66 309.68L552.24 312.32M552.24 309.68L547.66 312.32" stroke="#000" stroke-width="1.6" fill="none" stroke-linecap="round"/><path d="M559.25 308.35L559.25 313.65M556.96 309.68L561.54 312.32M561.54 309.68L556.96 312.32" stroke="#000" stroke-width="1.6" fill="none" stroke-linecap="round"/><path d="M568.55 308.35L568.55 313.65M566.26 309.68L570.84 312.32M570.84 309.68L566.26 312.32" stroke="#000" stroke-width="1.6" fill="none" stroke-linecap="round"/><path d="M595.75 308.75L595.75 314.05M593.46 310.07L598.04 312.72M598.04 310.07L593.46 312.72" stroke="#000" stroke-width="1.6" fill="none" stroke-linecap="round"/><path d="M605.05 308.75L605.05 314.05M602.76 310.07L607.34 312.72M607.34 310.07L602.76 312.72" stroke="#000" stroke-width="1.6" fill="none" stroke-linecap="round"/><path d="M614.35 308.75L614.35 314.05M612.06 310.07L616.64 312.72M616.64 310.07L612.06 312.72" stroke="#000" stroke-width="1.6" fill="none" stroke-linecap="round"/><path d="M623.65 308.75L623.65 314.05M621.36 310.07L625.94 312.72M625.94 310.07L621.36 312.72" stroke="#000" stroke-width="1.6" fill="none" stroke-linecap="round"/><path d="M576.90 281.05L576.90 286.35M574.61 282.38L579.19 285.02M579.19 282.38L574.61 285.02" stroke="#000" stroke-width="1.6" fill="none" stroke-linecap="round"/><path d="M586.20 281.05L586.20 286.35M583.91 282.38L588.49 285.02M588.49 282.38L583.91 285.02" stroke="#000" stroke-width="1.6" fill="none" stroke-linecap="round"/><path d="M595.50 281.05L595.50 286.35M593.21 282.38L597.79 285.02M597.79 282.38L593.21 285.02" stroke="#000" stroke-width="1.6" fill="none" stroke-linecap="round"/><path d="M604.80 281.05L604.80 286.35M602.51 282.38L607.09 285.02M607.09 282.38L602.51 285.02" stroke="#000" stroke-width="1.6" fill="none" stroke-linecap="round"/><text x="544.40" y="495.20" font-size="12.3" text-anchor="end" font-weight="normal" fill="#000" transform="rotate(-45 544.40 495.20)">Mock</text><text x="579.40" y="495.20" font-size="12.3" text-anchor="end" font-weight="normal" fill="#000" transform="rotate(-45 579.40 495.20)">ΔEM</text><text x="613.60" y="495.20" font-size="12.3" text-anchor="end" font-weight="normal" fill="#000" transform="rotate(-45 613.60 495.20)">mRNA 0.1 μg</text><text x="648.20" y="495.20" font-size="12.3" text-anchor="end" font-weight="normal" fill="#000" transform="rotate(-45 648.20 495.20)">mRNA 1 μg</text><line x1="58.30" y1="584.90" x2="311.00" y2="584.90" stroke="#a8a8a8" stroke-width="1.6" stroke-linecap="butt"/><text x="184.30" y="576.60" font-size="13.8" text-anchor="middle" font-weight="normal" fill="#000">S protein</text><line x1="40.70" y1="653.35" x2="40.70" y2="781.75" stroke="#000" stroke-width="1.5" stroke-linecap="butt"/><line x1="36.20" y1="654.10" x2="40.70" y2="654.10" stroke="#000" stroke-width="1.5" stroke-linecap="butt"/><text x="34.40" y="657.40" font-size="9.3" text-anchor="end" font-weight="bold" fill="#000">0.8</text><line x1="36.20" y1="685.90" x2="40.70" y2="685.90" stroke="#000" stroke-width="1.5" stroke-linecap="butt"/><text x="34.40" y="689.20" font-size="9.3" text-anchor="end" font-weight="bold" fill="#000">0.6</text><line x1="36.20" y1="717.70" x2="40.70" y2="717.70" stroke="#000" stroke-width="1.5" stroke-linecap="butt"/><text x="34.40" y="721.00" font-size="9.3" text-anchor="end" font-weight="bold" fill="#000">0.4</text><line x1="36.20" y1="749.20" x2="40.70" y2="749.20" stroke="#000" stroke-width="1.5" stroke-linecap="butt"/><text x="34.40" y="752.50" font-size="9.3" text-anchor="end" font-weight="bold" fill="#000">0.2</text><line x1="36.20" y1="781.00" x2="40.70" y2="781.00" stroke="#000" stroke-width="1.5" stroke-linecap="butt"/><text x="34.40" y="784.30" font-size="9.3" text-anchor="end" font-weight="bold" fill="#000">0.0</text><line x1="39.95" y1="781.00" x2="169.20" y2="781.00" stroke="#000" stroke-width="1.5" stroke-linecap="butt"/><line x1="60.30" y1="781.00" x2="60.30" y2="786.30" stroke="#000" stroke-width="1.5" stroke-linecap="butt"/><line x1="89.80" y1="781.00" x2="89.80" y2="786.30" stroke="#000" stroke-width="1.5" stroke-linecap="butt"/><line x1="119.60" y1="781.00" x2="119.60" y2="786.30" stroke="#000" stroke-width="1.5" stroke-linecap="butt"/><line x1="148.90" y1="781.00" x2="148.90" y2="786.30" stroke="#000" stroke-width="1.5" stroke-linecap="butt"/><line x1="60.50" y1="776.00" x2="60.50" y2="776.50" stroke="#000" stroke-width="1.5" stroke-linecap="butt"/><line x1="55.50" y1="776.00" x2="65.50" y2="776.00" stroke="#000" stroke-width="1.5" stroke-linecap="butt"/><rect x="50.85" y="776.50" width="19.30" height="3.70" fill="#111" stroke="#000" stroke-width="1.5"/><line x1="50.85" y1="778.50" x2="70.15" y2="778.50" stroke="#000" stroke-width="1.5" stroke-linecap="butt"/><line x1="90.00" y1="728.60" x2="90.00" y2="736.30" stroke="#2a2ae0" stroke-width="1.5" stroke-linecap="butt"/><line x1="85.50" y1="728.60" x2="94.50" y2="728.60" stroke="#2a2ae0" stroke-width="1.5" stroke-linecap="butt"/><line x1="90.00" y1="754.20" x2="90.00" y2="755.90" stroke="#2a2ae0" stroke-width="1.5" stroke-linecap="butt"/><line x1="85.50" y1="755.90" x2="94.50" y2="755.90" stroke="#2a2ae0" stroke-width="1.5" stroke-linecap="butt"/><rect x="80.70" y="736.30" width="18.60" height="17.90" fill="#b6b6ff" stroke="#2a2ae0" stroke-width="1.5"/><line x1="80.70" y1="745.20" x2="99.30" y2="745.20" stroke="#2a2ae0" stroke-width="1.5" stroke-linecap="butt"/><line x1="119.70" y1="752.40" x2="119.70" y2="768.30" stroke="#8a1cc0" stroke-width="1.5" stroke-linecap="butt"/><line x1="115.20" y1="752.40" x2="124.20" y2="752.40" stroke="#8a1cc0" stroke-width="1.5" stroke-linecap="butt"/><line x1="119.70" y1="776.50" x2="119.70" y2="777.80" stroke="#8a1cc0" stroke-width="1.5" stroke-linecap="butt"/><line x1="115.20" y1="777.80" x2="124.20" y2="777.80" stroke="#8a1cc0" stroke-width="1.5" stroke-linecap="butt"/><rect x="110.40" y="768.30" width="18.60" height="8.20" fill="#e6b6f0" stroke="#8a1cc0" stroke-width="1.5"/><line x1="110.40" y1="775.30" x2="129.00" y2="775.30" stroke="#8a1cc0" stroke-width="1.5" stroke-linecap="butt"/><line x1="149.00" y1="689.10" x2="149.00" y2="731.30" stroke="#e0207e" stroke-width="1.5" stroke-linecap="butt"/><line x1="144.50" y1="689.10" x2="153.50" y2="689.10" stroke="#e0207e" stroke-width="1.5" stroke-linecap="butt"/><line x1="149.00" y1="766.10" x2="149.00" y2="769.60" stroke="#e0207e" stroke-width="1.5" stroke-linecap="butt"/><line x1="144.50" y1="769.60" x2="153.50" y2="769.60" stroke="#e0207e" stroke-width="1.5" stroke-linecap="butt"/><rect x="139.55" y="731.30" width="18.90" height="34.80" fill="#ffbddf" stroke="#e0207e" stroke-width="1.5"/><line x1="139.55" y1="757.90" x2="158.45" y2="757.90" stroke="#e0207e" stroke-width="1.5" stroke-linecap="butt"/><polyline points="60.30,761.60 60.30,674.00 87.40,674.00 87.40,721.20" fill="none" stroke="#000" stroke-width="1.4" stroke-linejoin="miter"/><polyline points="92.30,721.20 92.30,674.00 119.60,674.00 119.60,744.20" fill="none" stroke="#000" stroke-width="1.4" stroke-linejoin="miter"/><polyline points="89.80,666.00 89.80,647.40 148.90,647.40 148.90,681.00" fill="none" stroke="#000" stroke-width="1.4" stroke-linejoin="miter"/><polyline points="60.80,665.30 60.80,619.90 148.90,619.90 148.90,639.30" fill="none" stroke="#000" stroke-width="1.4" stroke-linejoin="miter"/><path d="M74.00 662.15L74.00 667.45M71.71 663.47L76.29 666.12M76.29 663.47L71.71 666.12" stroke="#000" stroke-width="1.6" fill="none" stroke-linecap="round"/><path d="M106.20 662.15L106.20 667.45M103.91 663.47L108.49 666.12M108.49 663.47L103.91 666.12" stroke="#000" stroke-width="1.6" fill="none" stroke-linecap="round"/><path d="M105.00 607.85L105.00 613.15M102.71 609.17L107.29 611.83M107.29 609.17L102.71 611.83" stroke="#000" stroke-width="1.6" fill="none" stroke-linecap="round"/><text x="119.10" y="641.30" font-size="10.5" text-anchor="middle" font-weight="normal" fill="#000">ns</text><text transform="translate(14.6 776.6) rotate(-90)" font-size="12.6">IFNγ<tspan font-size="8.5" dy="-5.5">+</tspan><tspan dy="5.5">TNFα</tspan><tspan font-size="8.5" dy="-5.5">+</tspan><tspan dy="5.5">/CD4</tspan><tspan font-size="8.5" dy="-5.5">+</tspan><tspan dy="5.5">(%)</tspan></text><text x="60.45" y="799.65" font-size="10.6" text-anchor="end" font-weight="normal" fill="#000" transform="rotate(-45 60.45 799.65)">Mock</text><text x="93.45" y="796.15" font-size="10.6" text-anchor="end" font-weight="normal" fill="#000" transform="rotate(-45 93.45 796.15)">ΔEM</text><text x="123.25" y="796.15" font-size="10.6" text-anchor="end" font-weight="normal" fill="#000" transform="rotate(-45 123.25 796.15)">mRNA 0.1 μg</text><text x="152.55" y="796.15" font-size="10.6" text-anchor="end" font-weight="normal" fill="#000" transform="rotate(-45 152.55 796.15)">mRNA 1 μg</text><line x1="202.00" y1="653.55" x2="202.00" y2="782.35" stroke="#000" stroke-width="1.5" stroke-linecap="butt"/><line x1="197.50" y1="654.30" x2="202.00" y2="654.30" stroke="#000" stroke-width="1.5" stroke-linecap="butt"/><text x="195.70" y="657.60" font-size="9.3" text-anchor="end" font-weight="bold" fill="#000">5</text><line x1="197.50" y1="679.90" x2="202.00" y2="679.90" stroke="#000" stroke-width="1.5" stroke-linecap="butt"/><text x="195.70" y="683.20" font-size="9.3" text-anchor="end" font-weight="bold" fill="#000">4</text><line x1="197.50" y1="705.40" x2="202.00" y2="705.40" stroke="#000" stroke-width="1.5" stroke-linecap="butt"/><text x="195.70" y="708.70" font-size="9.3" text-anchor="end" font-weight="bold" fill="#000">3</text><line x1="197.50" y1="730.70" x2="202.00" y2="730.70" stroke="#000" stroke-width="1.5" stroke-linecap="butt"/><text x="195.70" y="734.00" font-size="9.3" text-anchor="end" font-weight="bold" fill="#000">2</text><line x1="197.50" y1="756.30" x2="202.00" y2="756.30" stroke="#000" stroke-width="1.5" stroke-linecap="butt"/><text x="195.70" y="759.60" font-size="9.3" text-anchor="end" font-weight="bold" fill="#000">1</text><line x1="197.50" y1="781.60" x2="202.00" y2="781.60" stroke="#000" stroke-width="1.5" stroke-linecap="butt"/><text x="195.70" y="784.90" font-size="9.3" text-anchor="end" font-weight="bold" fill="#000">0</text><line x1="201.25" y1="781.60" x2="328.80" y2="781.60" stroke="#000" stroke-width="1.5" stroke-linecap="butt"/><line x1="221.60" y1="781.60" x2="221.60" y2="786.80" stroke="#000" stroke-width="1.5" stroke-linecap="butt"/><line x1="250.70" y1="781.60" x2="250.70" y2="786.80" stroke="#000" stroke-width="1.5" stroke-linecap="butt"/><line x1="280.40" y1="781.60" x2="280.40" y2="786.80" stroke="#000" stroke-width="1.5" stroke-linecap="butt"/><line x1="309.70" y1="781.60" x2="309.70" y2="786.80" stroke="#000" stroke-width="1.5" stroke-linecap="butt"/><rect x="212.20" y="779.80" width="19.40" height="1.20" fill="#000" stroke="#000" stroke-width="1.5"/><line x1="251.00" y1="682.80" x2="251.00" y2="709.60" stroke="#2a2ae0" stroke-width="1.5" stroke-linecap="butt"/><line x1="246.05" y1="682.80" x2="255.95" y2="682.80" stroke="#2a2ae0" stroke-width="1.5" stroke-linecap="butt"/><line x1="251.00" y1="758.50" x2="251.00" y2="760.00" stroke="#2a2ae0" stroke-width="1.5" stroke-linecap="butt"/><line x1="246.05" y1="760.00" x2="255.95" y2="760.00" stroke="#2a2ae0" stroke-width="1.5" stroke-linecap="butt"/><rect x="241.95" y="709.60" width="18.10" height="48.90" fill="#b6b6ff" stroke="#2a2ae0" stroke-width="1.5"/><line x1="241.95" y1="741.40" x2="260.05" y2="741.40" stroke="#2a2ae0" stroke-width="1.5" stroke-linecap="butt"/><line x1="280.60" y1="754.80" x2="280.60" y2="756.30" stroke="#8a1cc0" stroke-width="1.5" stroke-linecap="butt"/><line x1="276.10" y1="754.80" x2="285.10" y2="754.80" stroke="#8a1cc0" stroke-width="1.5" stroke-linecap="butt"/><line x1="280.60" y1="774.40" x2="280.60" y2="777.20" stroke="#8a1cc0" stroke-width="1.5" stroke-linecap="butt"/><line x1="276.10" y1="777.20" x2="285.10" y2="777.20" stroke="#8a1cc0" stroke-width="1.5" stroke-linecap="butt"/><rect x="271.30" y="756.30" width="18.60" height="18.10" fill="#f4c6f2" stroke="#8a1cc0" stroke-width="1.5"/><line x1="271.30" y1="767.50" x2="289.90" y2="767.50" stroke="#8a1cc0" stroke-width="1.5" stroke-linecap="butt"/><line x1="310.10" y1="718.60" x2="310.10" y2="725.80" stroke="#e0207e" stroke-width="1.5" stroke-linecap="butt"/><line x1="305.60" y1="718.60" x2="314.60" y2="718.60" stroke="#e0207e" stroke-width="1.5" stroke-linecap="butt"/><line x1="310.10" y1="760.80" x2="310.10" y2="772.20" stroke="#e0207e" stroke-width="1.5" stroke-linecap="butt"/><line x1="305.60" y1="772.20" x2="314.60" y2="772.20" stroke="#e0207e" stroke-width="1.5" stroke-linecap="butt"/><rect x="300.80" y="725.80" width="18.60" height="35.00" fill="#ffbddf" stroke="#e0207e" stroke-width="1.5"/><line x1="300.80" y1="734.00" x2="319.40" y2="734.00" stroke="#e0207e" stroke-width="1.5" stroke-linecap="butt"/><polyline points="221.60,772.90 221.60,668.00 248.90,668.00 248.90,674.40" fill="none" stroke="#000" stroke-width="1.4" stroke-linejoin="miter"/><polyline points="253.60,674.40 253.60,668.00 280.40,668.00 280.40,746.90" fill="none" stroke="#000" stroke-width="1.4" stroke-linejoin="miter"/><polyline points="250.70,647.40 250.70,640.70 310.20,640.70 310.20,710.90" fill="none" stroke="#000" stroke-width="1.4" stroke-linejoin="miter"/><polyline points="221.60,647.40 221.60,613.40 310.20,613.40 310.20,632.70" fill="none" stroke="#000" stroke-width="1.4" stroke-linejoin="miter"/><path d="M231.60 655.25L231.60 660.55M229.31 656.57L233.89 659.23M233.89 656.57L229.31 659.23" stroke="#000" stroke-width="1.6" fill="none" stroke-linecap="round"/><path d="M240.10 655.25L240.10 660.55M237.81 656.57L242.39 659.23M242.39 656.57L237.81 659.23" stroke="#000" stroke-width="1.6" fill="none" stroke-linecap="round"/><path d="M267.60 655.25L267.60 660.55M265.31 656.57L269.89 659.23M269.89 656.57L265.31 659.23" stroke="#000" stroke-width="1.6" fill="none" stroke-linecap="round"/><path d="M262.20 601.25L262.20 606.55M259.91 602.57L264.49 605.23M264.49 602.57L259.91 605.23" stroke="#000" stroke-width="1.6" fill="none" stroke-linecap="round"/><path d="M270.40 601.25L270.40 606.55M268.11 602.57L272.69 605.23M272.69 602.57L268.11 605.23" stroke="#000" stroke-width="1.6" fill="none" stroke-linecap="round"/><text x="280.40" y="634.50" font-size="10.5" text-anchor="middle" font-weight="normal" fill="#000">ns</text><text transform="translate(183.2 776.8) rotate(-90)" font-size="12.6">IFNγ<tspan font-size="8.5" dy="-5.5">+</tspan><tspan dy="5.5">TNFα</tspan><tspan font-size="8.5" dy="-5.5">+</tspan><tspan dy="5.5">/CD8</tspan><tspan font-size="8.5" dy="-5.5">+</tspan><tspan dy="5.5" letter-spacing="-1.6">(%)</tspan></text><text x="225.25" y="796.15" font-size="10.6" text-anchor="end" font-weight="normal" fill="#000" transform="rotate(-45 225.25 796.15)">Mock</text><text x="254.35" y="796.15" font-size="10.6" text-anchor="end" font-weight="normal" fill="#000" transform="rotate(-45 254.35 796.15)">ΔEM</text><text x="284.05" y="796.15" font-size="10.6" text-anchor="end" font-weight="normal" fill="#000" transform="rotate(-45 284.05 796.15)">mRNA 0.1 μg</text><text x="313.35" y="796.15" font-size="10.6" text-anchor="end" font-weight="normal" fill="#000" transform="rotate(-45 313.35 796.15)">mRNA 1 μg</text><line x1="409.00" y1="584.90" x2="662.00" y2="584.90" stroke="#a8a8a8" stroke-width="1.6" stroke-linecap="butt"/><text x="535.90" y="576.20" font-size="13.8" text-anchor="middle" font-weight="normal" fill="#000">N protein</text><line x1="385.90" y1="653.35" x2="385.90" y2="781.75" stroke="#000" stroke-width="1.5" stroke-linecap="butt"/><line x1="381.40" y1="654.10" x2="385.90" y2="654.10" stroke="#000" stroke-width="1.5" stroke-linecap="butt"/><text x="379.60" y="657.40" font-size="9.3" text-anchor="end" font-weight="bold" fill="#000">0.20</text><line x1="381.40" y1="685.90" x2="385.90" y2="685.90" stroke="#000" stroke-width="1.5" stroke-linecap="butt"/><text x="379.60" y="689.20" font-size="9.3" text-anchor="end" font-weight="bold" fill="#000">0.15</text><line x1="381.40" y1="717.70" x2="385.90" y2="717.70" stroke="#000" stroke-width="1.5" stroke-linecap="butt"/><text x="379.60" y="721.00" font-size="9.3" text-anchor="end" font-weight="bold" fill="#000">0.10</text><line x1="381.40" y1="749.20" x2="385.90" y2="749.20" stroke="#000" stroke-width="1.5" stroke-linecap="butt"/><text x="379.60" y="752.50" font-size="9.3" text-anchor="end" font-weight="bold" fill="#000">0.05</text><line x1="381.40" y1="781.00" x2="385.90" y2="781.00" stroke="#000" stroke-width="1.5" stroke-linecap="butt"/><text x="379.60" y="784.30" font-size="9.3" text-anchor="end" font-weight="bold" fill="#000">0.00</text><line x1="385.15" y1="781.00" x2="512.00" y2="781.00" stroke="#000" stroke-width="1.5" stroke-linecap="butt"/><line x1="405.80" y1="781.00" x2="405.80" y2="786.30" stroke="#000" stroke-width="1.5" stroke-linecap="butt"/><line x1="435.10" y1="781.00" x2="435.10" y2="786.30" stroke="#000" stroke-width="1.5" stroke-linecap="butt"/><line x1="464.60" y1="781.00" x2="464.60" y2="786.30" stroke="#000" stroke-width="1.5" stroke-linecap="butt"/><line x1="493.90" y1="781.00" x2="493.90" y2="786.30" stroke="#000" stroke-width="1.5" stroke-linecap="butt"/><line x1="406.10" y1="768.60" x2="406.10" y2="771.00" stroke="#222" stroke-width="1.5" stroke-linecap="butt"/><line x1="401.60" y1="768.60" x2="410.60" y2="768.60" stroke="#222" stroke-width="1.5" stroke-linecap="butt"/><rect x="396.55" y="771.00" width="19.10" height="9.20" fill="#c8c8c8" stroke="#222" stroke-width="1.5"/><line x1="396.55" y1="773.30" x2="415.65" y2="773.30" stroke="#222" stroke-width="1.5" stroke-linecap="butt"/><line x1="435.30" y1="741.80" x2="435.30" y2="760.10" stroke="#2a2ae0" stroke-width="1.5" stroke-linecap="butt"/><line x1="430.80" y1="741.80" x2="439.80" y2="741.80" stroke="#2a2ae0" stroke-width="1.5" stroke-linecap="butt"/><rect x="426.40" y="760.10" width="17.80" height="20.90" fill="#b6b6ff" stroke="#2a2ae0" stroke-width="1.5"/><line x1="464.70" y1="757.40" x2="464.70" y2="761.60" stroke="#8a1cc0" stroke-width="1.5" stroke-linecap="butt"/><line x1="460.20" y1="757.40" x2="469.20" y2="757.40" stroke="#8a1cc0" stroke-width="1.5" stroke-linecap="butt"/><line x1="464.70" y1="772.00" x2="464.70" y2="781.00" stroke="#8a1cc0" stroke-width="1.5" stroke-linecap="butt"/><line x1="460.20" y1="781.00" x2="469.20" y2="781.00" stroke="#8a1cc0" stroke-width="1.5" stroke-linecap="butt"/><rect x="455.40" y="761.60" width="18.60" height="10.40" fill="#eec6f4" stroke="#8a1cc0" stroke-width="1.5"/><line x1="455.40" y1="768.60" x2="474.00" y2="768.60" stroke="#8a1cc0" stroke-width="1.5" stroke-linecap="butt"/><line x1="494.20" y1="692.10" x2="494.20" y2="733.80" stroke="#e0207e" stroke-width="1.5" stroke-linecap="butt"/><line x1="489.70" y1="692.10" x2="498.70" y2="692.10" stroke="#e0207e" stroke-width="1.5" stroke-linecap="butt"/><rect x="485.15" y="733.80" width="18.10" height="47.20" fill="#ffbddf" stroke="#e0207e" stroke-width="1.5"/><line x1="485.15" y1="767.80" x2="503.25" y2="767.80" stroke="#e0207e" stroke-width="1.5" stroke-linecap="butt"/><polyline points="405.80,760.40 405.80,676.70 433.10,676.70 433.10,734.30" fill="none" stroke="#000" stroke-width="1.4" stroke-linejoin="miter"/><polyline points="437.50,734.30 437.50,676.70 464.60,676.70 464.60,749.20" fill="none" stroke="#000" stroke-width="1.4" stroke-linejoin="miter"/><polyline points="435.10,669.30 435.10,650.00 493.90,650.00 493.90,684.20" fill="none" stroke="#000" stroke-width="1.4" stroke-linejoin="miter"/><polyline points="405.80,669.30 405.80,623.60 494.40,623.60 494.40,642.30" fill="none" stroke="#000" stroke-width="1.4" stroke-linejoin="miter"/><text x="419.40" y="671.00" font-size="10.5" text-anchor="middle" font-weight="normal" fill="#000">ns</text><text x="451.70" y="671.00" font-size="10.5" text-anchor="middle" font-weight="normal" fill="#000">ns</text><text x="464.60" y="644.20" font-size="10.5" text-anchor="middle" font-weight="normal" fill="#000">ns</text><text x="450.00" y="617.40" font-size="10.5" text-anchor="middle" font-weight="normal" fill="#000">ns</text><text transform="translate(355 776.8) rotate(-90)" font-size="12.6">IFNγ<tspan font-size="8.5" dy="-5.5">+</tspan><tspan dy="5.5">TNFα</tspan><tspan font-size="8.5" dy="-5.5">+</tspan><tspan dy="5.5">/CD4</tspan><tspan font-size="8.5" dy="-5.5">+</tspan><tspan dy="5.5" letter-spacing="-0.8"> (%)</tspan></text><text x="409.45" y="796.15" font-size="10.6" text-anchor="end" font-weight="normal" fill="#000" transform="rotate(-45 409.45 796.15)">Mock</text><text x="438.75" y="796.15" font-size="10.6" text-anchor="end" font-weight="normal" fill="#000" transform="rotate(-45 438.75 796.15)">ΔEM</text><text x="468.25" y="796.15" font-size="10.6" text-anchor="end" font-weight="normal" fill="#000" transform="rotate(-45 468.25 796.15)">mRNA 0.1 μg</text><text x="497.55" y="796.15" font-size="10.6" text-anchor="end" font-weight="normal" fill="#000" transform="rotate(-45 497.55 796.15)">mRNA 1 μg</text><line x1="557.30" y1="653.25" x2="557.30" y2="782.15" stroke="#000" stroke-width="1.5" stroke-linecap="butt"/><line x1="552.80" y1="654.00" x2="557.30" y2="654.00" stroke="#000" stroke-width="1.5" stroke-linecap="butt"/><text x="551.00" y="657.30" font-size="9.3" text-anchor="end" font-weight="bold" fill="#000">0.3</text><line x1="552.80" y1="696.50" x2="557.30" y2="696.50" stroke="#000" stroke-width="1.5" stroke-linecap="butt"/><text x="551.00" y="699.80" font-size="9.3" text-anchor="end" font-weight="bold" fill="#000">0.2</text><line x1="552.80" y1="739.20" x2="557.30" y2="739.20" stroke="#000" stroke-width="1.5" stroke-linecap="butt"/><text x="551.00" y="742.50" font-size="9.3" text-anchor="end" font-weight="bold" fill="#000">0.1</text><line x1="552.80" y1="781.40" x2="557.30" y2="781.40" stroke="#000" stroke-width="1.5" stroke-linecap="butt"/><text x="551.00" y="784.70" font-size="9.3" text-anchor="end" font-weight="bold" fill="#000">0.0</text><line x1="556.55" y1="781.40" x2="685.00" y2="781.40" stroke="#000" stroke-width="1.5" stroke-linecap="butt"/><line x1="576.90" y1="781.40" x2="576.90" y2="786.60" stroke="#000" stroke-width="1.5" stroke-linecap="butt"/><line x1="606.30" y1="781.40" x2="606.30" y2="786.60" stroke="#000" stroke-width="1.5" stroke-linecap="butt"/><line x1="635.20" y1="781.40" x2="635.20" y2="786.60" stroke="#000" stroke-width="1.5" stroke-linecap="butt"/><line x1="664.60" y1="781.40" x2="664.60" y2="786.60" stroke="#000" stroke-width="1.5" stroke-linecap="butt"/><line x1="576.80" y1="764.80" x2="576.80" y2="768.60" stroke="#222" stroke-width="1.5" stroke-linecap="butt"/><line x1="572.30" y1="764.80" x2="581.30" y2="764.80" stroke="#222" stroke-width="1.5" stroke-linecap="butt"/><rect x="567.50" y="768.60" width="18.60" height="8.90" fill="#c8c8c8" stroke="#222" stroke-width="1.5"/><line x1="567.50" y1="774.20" x2="586.10" y2="774.20" stroke="#222" stroke-width="1.5" stroke-linecap="butt"/><line x1="605.90" y1="688.10" x2="605.90" y2="704.70" stroke="#2a2ae0" stroke-width="1.5" stroke-linecap="butt"/><line x1="601.40" y1="688.10" x2="610.40" y2="688.10" stroke="#2a2ae0" stroke-width="1.5" stroke-linecap="butt"/><line x1="605.90" y1="764.20" x2="605.90" y2="766.80" stroke="#2a2ae0" stroke-width="1.5" stroke-linecap="butt"/><line x1="601.40" y1="766.80" x2="610.40" y2="766.80" stroke="#2a2ae0" stroke-width="1.5" stroke-linecap="butt"/><rect x="596.45" y="704.70" width="18.90" height="59.50" fill="#b6b6ff" stroke="#2a2ae0" stroke-width="1.5"/><line x1="596.45" y1="742.50" x2="615.35" y2="742.50" stroke="#2a2ae0" stroke-width="1.5" stroke-linecap="butt"/><line x1="635.20" y1="763.00" x2="635.20" y2="767.30" stroke="#8a1cc0" stroke-width="1.5" stroke-linecap="butt"/><line x1="630.70" y1="763.00" x2="639.70" y2="763.00" stroke="#8a1cc0" stroke-width="1.5" stroke-linecap="butt"/><rect x="625.75" y="767.30" width="18.90" height="13.30" fill="#eec6f4" stroke="#8a1cc0" stroke-width="1.5"/><line x1="625.75" y1="773.70" x2="644.65" y2="773.70" stroke="#8a1cc0" stroke-width="1.5" stroke-linecap="butt"/><line x1="664.60" y1="753.80" x2="664.60" y2="762.20" stroke="#e0207e" stroke-width="1.5" stroke-linecap="butt"/><line x1="660.10" y1="753.80" x2="669.10" y2="753.80" stroke="#e0207e" stroke-width="1.5" stroke-linecap="butt"/><rect x="655.15" y="762.20" width="18.90" height="18.40" fill="#ffbddf" stroke="#e0207e" stroke-width="1.5"/><line x1="655.15" y1="771.60" x2="674.05" y2="771.60" stroke="#e0207e" stroke-width="1.5" stroke-linecap="butt"/><polyline points="576.90,757.10 576.90,673.20 603.80,673.20 603.80,680.40" fill="none" stroke="#000" stroke-width="1.4" stroke-linejoin="miter"/><polyline points="608.40,680.40 608.40,673.20 635.20,673.20 635.20,754.50" fill="none" stroke="#000" stroke-width="1.4" stroke-linejoin="miter"/><polyline points="605.80,653.30 605.80,646.90 664.60,646.90 664.60,745.60" fill="none" stroke="#000" stroke-width="1.4" stroke-linejoin="miter"/><polyline points="576.90,653.30 576.90,619.30 664.60,619.30 664.60,638.00" fill="none" stroke="#000" stroke-width="1.4" stroke-linejoin="miter"/><path d="M586.35 661.25L586.35 666.55M584.06 662.57L588.64 665.23M588.64 662.57L584.06 665.23" stroke="#000" stroke-width="1.6" fill="none" stroke-linecap="round"/><path d="M594.65 661.25L594.65 666.55M592.36 662.57L596.94 665.23M596.94 662.57L592.36 665.23" stroke="#000" stroke-width="1.6" fill="none" stroke-linecap="round"/><path d="M618.25 661.25L618.25 666.55M615.96 662.57L620.54 665.23M620.54 662.57L615.96 665.23" stroke="#000" stroke-width="1.6" fill="none" stroke-linecap="round"/><path d="M626.55 661.25L626.55 666.55M624.26 662.57L628.84 665.23M628.84 662.57L624.26 665.23" stroke="#000" stroke-width="1.6" fill="none" stroke-linecap="round"/><path d="M635.20 633.95L635.20 639.25M632.91 635.27L637.49 637.93M637.49 635.27L632.91 637.93" stroke="#000" stroke-width="1.6" fill="none" stroke-linecap="round"/><text x="620.60" y="612.90" font-size="10.5" text-anchor="middle" font-weight="normal" fill="#000">ns</text><text transform="translate(528.7 776.8) rotate(-90)" font-size="12.6">IFNγ<tspan font-size="8.5" dy="-5.5">+</tspan><tspan dy="5.5">TNFα</tspan><tspan font-size="8.5" dy="-5.5">+</tspan><tspan dy="5.5">/CD8</tspan><tspan font-size="8.5" dy="-5.5">+</tspan><tspan dy="5.5" letter-spacing="-0.8"> (%)</tspan></text><text x="580.55" y="796.15" font-size="10.6" text-anchor="end" font-weight="normal" fill="#000" transform="rotate(-45 580.55 796.15)">Mock</text><text x="609.95" y="796.15" font-size="10.6" text-anchor="end" font-weight="normal" fill="#000" transform="rotate(-45 609.95 796.15)">ΔEM</text><text x="638.85" y="796.15" font-size="10.6" text-anchor="end" font-weight="normal" fill="#000" transform="rotate(-45 638.85 796.15)">mRNA 0.1 μg</text><text x="668.25" y="796.15" font-size="10.6" text-anchor="end" font-weight="normal" fill="#000" transform="rotate(-45 668.25 796.15)">mRNA 1 μg</text></svg></body></html>
